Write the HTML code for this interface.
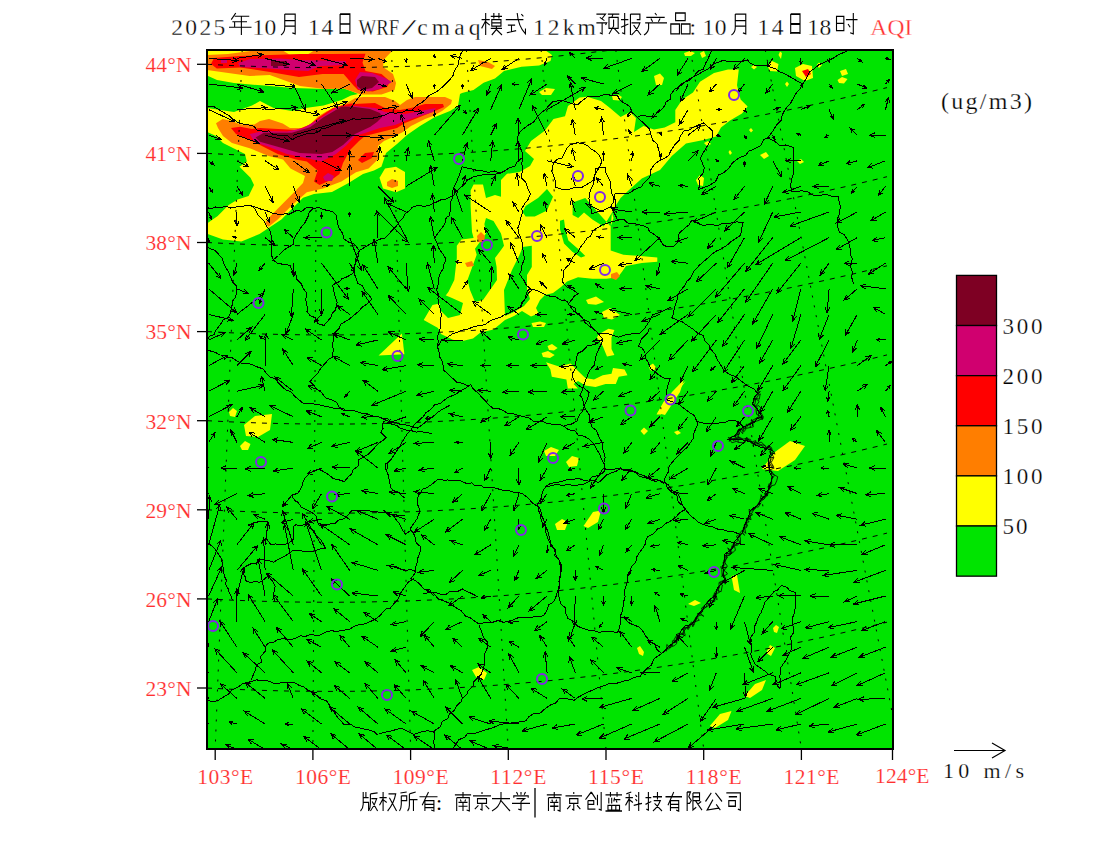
<!DOCTYPE html><html><head><meta charset="utf-8"><style>html,body{margin:0;padding:0;background:#fff;width:1100px;height:850px;overflow:hidden}svg{display:block}text{font-family:"Liberation Serif",serif}</style></head><body>
<svg width="1100" height="850" viewBox="0 0 1100 850">
<rect width="1100" height="850" fill="#fff"/>
<defs><clipPath id="mc"><rect x="207" y="50" width="686" height="699"/></clipPath></defs>
<g clip-path="url(#mc)">
<rect x="207" y="50" width="686" height="699" fill="#00e400"/>
<polygon points="207,50 545,50 552,55 550.5,61 539,65.4 521.5,66.8 504,71 495,78.5 483.6,82.8 473.5,90 462,93 460,94 458,106 450,111 435,117 420,126 407,135 397,144 386,153 381.4,166.8 374,170.5 363,174 348.6,183 332,192 314,194 303,197.7 292.3,208.6 281.4,219.5 270.5,226.8 259.5,234 241.4,241.4 223,239.5 207.7,234" fill="#ffff00"/>
<polygon points="207,75.6 217,80 234,83 264,85.6 293,88 325,89 343.6,88.6 351,91 358,94 351,95.5 341.8,100 323.6,105.5 305.5,108 292,111 273.6,108 260,101 252,105.6 234,112 207,108" fill="#00e400"/>
<polygon points="207.7,132.3 216,136 223,143 234,148.6 245,154 246.8,161.4 239.5,166.8 250.5,177.7 254,185 248.6,196 237.7,199.5 228.6,205 217.7,216 207.7,223" fill="#00e400"/>
<polygon points="207,55 228,54 258,50 282,50 290,55 305,56 315,50 393,50 384,59.5 383,67 393,74 396,83 394.5,90 381.5,94.5 361,94.5 351,91 343.6,88.6 325,89 300,86 269.7,75 249.7,76 207,70" fill="#ff7e00"/>
<polygon points="214,58 240,56 270,55 300,54 330,54 365.5,53.7 362.5,62.5 365.5,71 381.5,74 390,81.4 387,87 372.7,91.5 358,90 353.8,85.7 343.6,74 322.6,74 299,77 270,72 240.3,67.4 216.8,68.6 211,64" fill="#ff0000"/>
<polygon points="238,63 250,59 280,58.5 300,60 346,61 346,65 320,66 308,71 290,70 260,68 240,67" fill="#d0006f"/>
<polygon points="221,59 227,59 227,63 221,63" fill="#d0006f"/>
<polygon points="355,80 360,72 372,73 385,78 392,82 380,89 368,91.5 358,89" fill="#d0006f"/>
<polygon points="271,61 287,61 287,66 271,66" fill="#7e0023"/>
<polygon points="357,80 362,76 375,77 379,82 372,88 362,90 357,86" fill="#7e0023"/>
<polygon points="216,123.3 222.6,119 232,121 240.3,124.5 254.4,124.5 260,121 269,119 282.7,123.6 290,128 303.6,128 311,123.6 318,116.4 327,111 335.5,108 346,103.6 355.5,98 363,97 385,97 395,101 400,105 407,100 415,97 445,97 452,100 451,104 442,111 433,116 425,119 411,126 403,132 393,137 384,141 378,146 379.5,157.7 368.6,168.6 356,172.3 341.4,181.4 323,188.6 306.8,192.3 292.3,205 277.7,219.5 268.6,226.8 265,223 270.5,216 281.4,205 292.3,194 303,183 305,176 290.5,168.6 283,159.5 268.6,156 250.5,148.6 232,143 223,136 218,128" fill="#ff7e00"/>
<polygon points="231,128 240.3,126.8 252,129 260,128 296.4,130 310,124.5 319,117.3 332.7,108 341.8,105.5 351,103.6 355,104 375,103 385,108 400,110 411,108 425,104 443,104 444,107 435,111 420,117 405,123 397,128 385,131 365,136 359,141 350,150 343,163 339.5,174 332,179.5 319.5,185 314,181.4 317.7,170.5 306.8,161.4 296,159.5 277.7,154 256,143 236,134" fill="#ff0000"/>
<polygon points="358,160 365,153 374,152 372,158 362,163" fill="#ff0000"/>
<polygon points="249.7,134 263.8,131 287,131.4 303.6,128 319,119 337,107.3 355,106 375,108 385,112 405,114 420,111 436,108 433,112 420,116 405,121 395,125 380,128 365,133 355,136 346.8,145 336,154 321.4,161.4 305,157.7 286.8,154 268.6,146.8 254.4,142" fill="#d0006f"/>
<polygon points="323,177 328,173 334,176 332,181 325,181" fill="#d0006f"/>
<polygon points="255.6,137.4 263.8,132.7 291.8,132.7 310,127.3 323.6,117.3 341.8,106.4 355,107 370,109 380,113 382,117 377,122 370,127 355,134 343,145 332.3,152 321.4,154 299.5,153 277.7,146.8 260,141.8" fill="#7e0023"/>
<polygon points="379.5,177.7 385,168.6 396,166.8 405,172 405,188.6 396,192.3 383,188.6" fill="#ffff00"/>
<polygon points="387,182 392,179 398,181 398,186 392,188 387,186" fill="#ff7e00"/>
<polygon points="478,60 488,62 495,66 492,69 480,66" fill="#ff7e00"/>
<polygon points="530,166 534,159 525,151 531,141 544.7,130.8 553.5,119 565,116.3 568,106 579.6,97.4 587,96.8 601,101 610,108 620.6,117 630,112 636,118 634,132 643.5,126 654,129.4 664.7,127.6 675.3,122.3 675.3,110 682.3,99.4 693,92.4 700,81.8 714,73 728,69.4 738.8,69.4 737,85.3 740.6,99.4 747.6,106.5 742,113.5 730,120.6 721,127.6 716,136.5 703.5,140 686,143.5 671.8,156 660,170 641.8,178.5 629,190 620.6,198 615,206.7 612,212.4 613.5,218 610.7,226.5 610.7,250.5 623.4,254.7 640.4,256 657.3,257.5 657.3,261.8 641.8,263 626,266 622,271.7 617.8,277.3 606.5,278.7 592.4,278.7 578,277.3 567,281.5 561,287 553,293 545,295 540,300 536,308 538.6,313.6 531,316.5 522,311 514,316 505,320 499,325 493.5,329.6 480.5,332.5 473,338.4 461.5,341.3 452.8,339.8 441,334 438,328 423.7,320 432.5,305 439.7,303.5 448.5,291.8 454.3,280 456.8,258 456.8,245.7 461.4,239.5 473.6,238 472,232 470.6,206 470.6,190.6 473.6,184.5 483,184.5 486,198 495,195 501,196.7 501,180 507,173.8 519.5,172" fill="#ffff00"/>
<polygon points="612,212.4 603.6,226.5 592.4,219.4 584,212.4 578.2,218 572.6,215 572.6,202.5 585.3,198 596.6,211 610.7,226.5" fill="#00e400"/>
<polygon points="560,220.8 564,219.4 565.5,230.7 568.4,240.6 578.2,249 585.3,256 581,257.5 572.6,252 564,243.4 560,229.3" fill="#00e400"/>
<polygon points="522.6,212 525.6,206 538,198 547,189 553,196.7 547,210.5 534.8,216.6 525.6,216.6" fill="#00e400"/>
<polygon points="486,218 493.5,221 501,233.4 504,245.7 501,250 495,258 496.6,267 497,280 490,290 483,300 475,302 470,290 467.5,280 476.7,254.8 475,248.7 486,233.4 484.4,224" fill="#00e400"/>
<polygon points="522.6,247 531.8,245.7 531.8,267 527,275 527,289 530,299 524,306 514,312 505,316 504,290 512,270 519.5,255" fill="#00e400"/>
<polygon points="440,293 452,298 463,303 460,315 448,318 440,310" fill="#00e400"/>
<polygon points="477,236 481,232 485,236 484,242 478,242" fill="#ff7e00"/>
<polygon points="465,263 472,261 474,266 467,267" fill="#ff7e00"/>
<polygon points="611,274 617,272 620,276 616,280 611,278" fill="#ff7e00"/>
<polygon points="795,68 803,64 812,66 813,78 805,81 796,76" fill="#ffff00"/>
<polygon points="802,71 808,69 811,74 806,77" fill="#ff0000"/>
<polygon points="378.6,355.5 401.9,333.5 404.4,354.2" fill="#ffff00"/>
<polygon points="244,425 255,416 272,414 270,430 258,437 246,436" fill="#ffff00"/>
<polygon points="762,469 775,452 790,441 805,446 795,460 778,471" fill="#ffff00"/>
<polygon points="709.8,726 720,714 731.5,711 728,720 715,728" fill="#ffff00"/>
<polygon points="744.6,696 755,684 766,680 762,690 750,698" fill="#ffff00"/>
<polygon points="731.5,576 737,575 740,593 734,590" fill="#ffff00"/>
<polygon points="583.5,526 593,512 601,510.6 598,522 588,528" fill="#ffff00"/>
<polygon points="657.5,413 672,392 683.7,380 680,392 665,415" fill="#ffff00"/>
<polygon points="688,604 695,600 701,603 694,606" fill="#ffff00"/>
<polygon points="766,653 770,645 775,648 771,656" fill="#ffff00"/>
<polygon points="586,300 596,296.6 604,302 596,304.7 588,304" fill="#ffff00"/>
<polygon points="602,312 610,308 620,315 612,319.5 604,318" fill="#ffff00"/>
<polygon points="531.5,323 540,321.5 546,323 544,327 533,327" fill="#ffff00"/>
<polygon points="547.5,346 552,344 557.6,348 554,350.5 549,350" fill="#ffff00"/>
<polygon points="541.6,353 548,351 554.7,355 550,358 543,357" fill="#ffff00"/>
<polygon points="546,362.2 559,366.5 570.7,363.6 576.5,369.5 585.3,378 594,379.6 602.7,375.3 611.5,373.8 613,368 624.5,369.5 627.5,375.3 618.7,376.7 615.8,384 605.6,384 595.5,387 585.3,385.5 578,381 573.6,384 578,388.4 567.8,388.4 566.4,379.6 551.8,376.7 550.4,369.5" fill="#ffff00"/>
<polygon points="608.5,328.7 614.4,330 611.5,337.5 611.5,349 614.4,355 607,356.4 602.7,346 597,337.5 598.4,334.5" fill="#ffff00"/>
<polygon points="649,366 653,363.6 656.5,368 653,371 650,370" fill="#ffff00"/>
<polygon points="685.6,381 675.5,390 663.8,401.5 656.5,414.5 661,414.5 669.6,401.5 681.3,387" fill="#ffff00"/>
<polygon points="640.5,431 644,427.6 648,431 644,435" fill="#ffff00"/>
<polygon points="674,432 678,430.5 681,433 677,435" fill="#ffff00"/>
<polygon points="654,76 660,73.5 664,78 662,85 656,85" fill="#ffff00"/>
<polygon points="612,96 618,94.5 622,97 619,100.5 613,100" fill="#ffff00"/>
<polygon points="684,53 690,51 695,53 691,56 685,56" fill="#ffff00"/>
<polygon points="539,92 546,88 555,89 551,95 542,95" fill="#ffff00"/>
<polygon points="700,53 704,51 706,56 702,58" fill="#ffff00"/>
<polygon points="840,71 846,69 848,74 842,76" fill="#ffff00"/>
<polygon points="760,155 766,152 769,156 764,159" fill="#ffff00"/>
<polygon points="544,451 551,447 559,450 555,456 546,456" fill="#ffff00"/>
<polygon points="566,462 572,456 579,458 577,466 569,467" fill="#ffff00"/>
<polygon points="555,524 562,519 568,522 565,530 557,530" fill="#ffff00"/>
<polygon points="472,670 479,667 487,673 484,680 476,677" fill="#ffff00"/>
<polygon points="229,412 233,408 237,411 235,417 230,416" fill="#ffff00"/>
<polygon points="240,446 245,441 250.5,444 248,450 242,450" fill="#ffff00"/>
<polygon points="637,648 640,646 644,652 643,656 639,654" fill="#ffff00"/>
<polygon points="773,628 776,625 779,627 777,633 774,632" fill="#ffff00"/>
<polygon points="751,67 754,65 757,67 754,69.5" fill="#ffff00"/>
<polygon points="767.5,66 772,61 778.5,64 777,71.6 770,71" fill="#ffff00"/>
<polygon points="778.5,55 780,51.6 782,53 781,59" fill="#ffff00"/>
<polygon points="816.6,65 819,62.5 822,65 819,68" fill="#ffff00"/>
<polygon points="837.5,80 842,77 847.5,79 844,83.5 839,83" fill="#ffff00"/>
<polygon points="785,84 787,81.6 789,84 787,87" fill="#ffff00"/>
<polygon points="749,130 751,128 753,130.5 751,132.5" fill="#ffff00"/>
<polygon points="704,143 708,141 711,144 707,146" fill="#ffff00"/>
<polygon points="728.5,152 730,150 732,153 730,155" fill="#ffff00"/>
<polygon points="696,180 700,175 704,178 703,186 698,185" fill="#ffff00"/>
<polygon points="797,161 801,159 804,162 800,164" fill="#ffff00"/>
<polyline points="207,64.3 215,64.7 223,65.1 231,65.5 239,65.8 247,66.1 255,66.4 263,66.7 271,66.9 279,67.1 287,67.3 295,67.4 303,67.5 311,67.6 319,67.6 327,67.7 335,67.7 343,67.6 351,67.6 359,67.5 367,67.4 375,67.2 383,67.0 391,66.8 399,66.6 407,66.4 415,66.1 423,65.7 431,65.4 439,65.0 447,64.6 455,64.2 463,63.7 471,63.2 479,62.7 487,62.2 495,61.6 503,61.0 511,60.4 519,59.7 527,59.0 535,58.3 543,57.6 551,56.8 559,56.0 567,55.1 575,54.3 583,53.4 591,52.5 599,51.5 607,50.6 615,49.6 623,48.5 631,47.5 639,46.4 647,45.3 655,44.1 663,42.9 671,41.7 679,40.5 687,39.3 695,38.0 703,36.6 711,35.3 719,33.9 727,32.5 735,31.1 743,29.6 751,28.1 759,26.6 767,25.1 775,23.5 783,21.9 791,20.3 799,18.6 807,16.9 815,15.2 823,13.5 831,11.7 839,9.9 847,8.1 855,6.2 863,4.3 871,2.4 879,0.5 887,-1.5" fill="none" stroke="#000" stroke-width="1" stroke-dasharray="5 6"/><polyline points="207,153.4 215,153.8 223,154.2 231,154.6 239,154.9 247,155.2 255,155.5 263,155.8 271,156.0 279,156.2 287,156.4 295,156.5 303,156.6 311,156.7 319,156.7 327,156.8 335,156.8 343,156.7 351,156.7 359,156.6 367,156.5 375,156.3 383,156.1 391,155.9 399,155.7 407,155.5 415,155.2 423,154.8 431,154.5 439,154.1 447,153.7 455,153.3 463,152.8 471,152.3 479,151.8 487,151.3 495,150.7 503,150.1 511,149.5 519,148.8 527,148.1 535,147.4 543,146.7 551,145.9 559,145.1 567,144.2 575,143.4 583,142.5 591,141.6 599,140.6 607,139.7 615,138.7 623,137.6 631,136.6 639,135.5 647,134.4 655,133.2 663,132.0 671,130.8 679,129.6 687,128.4 695,127.1 703,125.7 711,124.4 719,123.0 727,121.6 735,120.2 743,118.7 751,117.2 759,115.7 767,114.2 775,112.6 783,111.0 791,109.4 799,107.7 807,106.0 815,104.3 823,102.6 831,100.8 839,99.0 847,97.2 855,95.3 863,93.4 871,91.5 879,89.6 887,87.6" fill="none" stroke="#000" stroke-width="1" stroke-dasharray="5 6"/><polyline points="207,242.5 215,242.9 223,243.3 231,243.7 239,244.0 247,244.3 255,244.6 263,244.9 271,245.1 279,245.3 287,245.5 295,245.6 303,245.7 311,245.8 319,245.8 327,245.9 335,245.9 343,245.8 351,245.8 359,245.7 367,245.6 375,245.4 383,245.2 391,245.0 399,244.8 407,244.6 415,244.3 423,243.9 431,243.6 439,243.2 447,242.8 455,242.4 463,241.9 471,241.4 479,240.9 487,240.4 495,239.8 503,239.2 511,238.6 519,237.9 527,237.2 535,236.5 543,235.8 551,235.0 559,234.2 567,233.3 575,232.5 583,231.6 591,230.7 599,229.7 607,228.8 615,227.8 623,226.7 631,225.7 639,224.6 647,223.5 655,222.3 663,221.1 671,219.9 679,218.7 687,217.5 695,216.2 703,214.8 711,213.5 719,212.1 727,210.7 735,209.3 743,207.8 751,206.3 759,204.8 767,203.3 775,201.7 783,200.1 791,198.5 799,196.8 807,195.1 815,193.4 823,191.7 831,189.9 839,188.1 847,186.3 855,184.4 863,182.5 871,180.6 879,178.7 887,176.7" fill="none" stroke="#000" stroke-width="1" stroke-dasharray="5 6"/><polyline points="207,331.6 215,332.0 223,332.4 231,332.8 239,333.1 247,333.4 255,333.7 263,334.0 271,334.2 279,334.4 287,334.6 295,334.7 303,334.8 311,334.9 319,334.9 327,335.0 335,335.0 343,334.9 351,334.9 359,334.8 367,334.7 375,334.5 383,334.3 391,334.1 399,333.9 407,333.7 415,333.4 423,333.0 431,332.7 439,332.3 447,331.9 455,331.5 463,331.0 471,330.5 479,330.0 487,329.5 495,328.9 503,328.3 511,327.7 519,327.0 527,326.3 535,325.6 543,324.9 551,324.1 559,323.3 567,322.4 575,321.6 583,320.7 591,319.8 599,318.8 607,317.9 615,316.9 623,315.8 631,314.8 639,313.7 647,312.6 655,311.4 663,310.2 671,309.0 679,307.8 687,306.6 695,305.3 703,303.9 711,302.6 719,301.2 727,299.8 735,298.4 743,296.9 751,295.4 759,293.9 767,292.4 775,290.8 783,289.2 791,287.6 799,285.9 807,284.2 815,282.5 823,280.8 831,279.0 839,277.2 847,275.4 855,273.5 863,271.6 871,269.7 879,267.8 887,265.8" fill="none" stroke="#000" stroke-width="1" stroke-dasharray="5 6"/><polyline points="207,420.7 215,421.1 223,421.5 231,421.9 239,422.2 247,422.5 255,422.8 263,423.1 271,423.3 279,423.5 287,423.7 295,423.8 303,423.9 311,424.0 319,424.0 327,424.1 335,424.1 343,424.0 351,424.0 359,423.9 367,423.8 375,423.6 383,423.4 391,423.2 399,423.0 407,422.8 415,422.5 423,422.1 431,421.8 439,421.4 447,421.0 455,420.6 463,420.1 471,419.6 479,419.1 487,418.6 495,418.0 503,417.4 511,416.8 519,416.1 527,415.4 535,414.7 543,414.0 551,413.2 559,412.4 567,411.5 575,410.7 583,409.8 591,408.9 599,407.9 607,407.0 615,406.0 623,404.9 631,403.9 639,402.8 647,401.7 655,400.5 663,399.3 671,398.1 679,396.9 687,395.7 695,394.4 703,393.0 711,391.7 719,390.3 727,388.9 735,387.5 743,386.0 751,384.5 759,383.0 767,381.5 775,379.9 783,378.3 791,376.7 799,375.0 807,373.3 815,371.6 823,369.9 831,368.1 839,366.3 847,364.5 855,362.6 863,360.7 871,358.8 879,356.9 887,354.9" fill="none" stroke="#000" stroke-width="1" stroke-dasharray="5 6"/><polyline points="207,509.8 215,510.2 223,510.6 231,511.0 239,511.3 247,511.6 255,511.9 263,512.2 271,512.4 279,512.6 287,512.8 295,512.9 303,513.0 311,513.1 319,513.1 327,513.2 335,513.2 343,513.1 351,513.1 359,513.0 367,512.9 375,512.7 383,512.5 391,512.3 399,512.1 407,511.9 415,511.6 423,511.2 431,510.9 439,510.5 447,510.1 455,509.7 463,509.2 471,508.7 479,508.2 487,507.7 495,507.1 503,506.5 511,505.9 519,505.2 527,504.5 535,503.8 543,503.1 551,502.3 559,501.5 567,500.6 575,499.8 583,498.9 591,498.0 599,497.0 607,496.1 615,495.1 623,494.0 631,493.0 639,491.9 647,490.8 655,489.6 663,488.4 671,487.2 679,486.0 687,484.8 695,483.5 703,482.1 711,480.8 719,479.4 727,478.0 735,476.6 743,475.1 751,473.6 759,472.1 767,470.6 775,469.0 783,467.4 791,465.8 799,464.1 807,462.4 815,460.7 823,459.0 831,457.2 839,455.4 847,453.6 855,451.7 863,449.8 871,447.9 879,446.0 887,444.0" fill="none" stroke="#000" stroke-width="1" stroke-dasharray="5 6"/><polyline points="207,598.9 215,599.3 223,599.7 231,600.1 239,600.4 247,600.7 255,601.0 263,601.3 271,601.5 279,601.7 287,601.9 295,602.0 303,602.1 311,602.2 319,602.2 327,602.3 335,602.3 343,602.2 351,602.2 359,602.1 367,602.0 375,601.8 383,601.6 391,601.4 399,601.2 407,601.0 415,600.7 423,600.3 431,600.0 439,599.6 447,599.2 455,598.8 463,598.3 471,597.8 479,597.3 487,596.8 495,596.2 503,595.6 511,595.0 519,594.3 527,593.6 535,592.9 543,592.2 551,591.4 559,590.6 567,589.7 575,588.9 583,588.0 591,587.1 599,586.1 607,585.2 615,584.2 623,583.1 631,582.1 639,581.0 647,579.9 655,578.7 663,577.5 671,576.3 679,575.1 687,573.9 695,572.6 703,571.2 711,569.9 719,568.5 727,567.1 735,565.7 743,564.2 751,562.7 759,561.2 767,559.7 775,558.1 783,556.5 791,554.9 799,553.2 807,551.5 815,549.8 823,548.1 831,546.3 839,544.5 847,542.7 855,540.8 863,538.9 871,537.0 879,535.1 887,533.1" fill="none" stroke="#000" stroke-width="1" stroke-dasharray="5 6"/><polyline points="207,688.0 215,688.4 223,688.8 231,689.2 239,689.5 247,689.8 255,690.1 263,690.4 271,690.6 279,690.8 287,691.0 295,691.1 303,691.2 311,691.3 319,691.3 327,691.4 335,691.4 343,691.3 351,691.3 359,691.2 367,691.1 375,690.9 383,690.7 391,690.5 399,690.3 407,690.1 415,689.8 423,689.4 431,689.1 439,688.7 447,688.3 455,687.9 463,687.4 471,686.9 479,686.4 487,685.9 495,685.3 503,684.7 511,684.1 519,683.4 527,682.7 535,682.0 543,681.3 551,680.5 559,679.7 567,678.8 575,678.0 583,677.1 591,676.2 599,675.2 607,674.3 615,673.3 623,672.2 631,671.2 639,670.1 647,669.0 655,667.8 663,666.6 671,665.4 679,664.2 687,663.0 695,661.7 703,660.3 711,659.0 719,657.6 727,656.2 735,654.8 743,653.3 751,651.8 759,650.3 767,648.8 775,647.2 783,645.6 791,644.0 799,642.3 807,640.6 815,638.9 823,637.2 831,635.4 839,633.6 847,631.8 855,629.9 863,628.0 871,626.1 879,624.2 887,622.2" fill="none" stroke="#000" stroke-width="1" stroke-dasharray="5 6"/><line x1="242.2" y1="50" x2="215.2" y2="749" stroke="#000" stroke-width="1" stroke-dasharray="2 8"/><line x1="316.9" y1="50" x2="312.9" y2="749" stroke="#000" stroke-width="1" stroke-dasharray="2 8"/><line x1="391.6" y1="50" x2="410.6" y2="749" stroke="#000" stroke-width="1" stroke-dasharray="2 8"/><line x1="466.4" y1="50" x2="508.3" y2="749" stroke="#000" stroke-width="1" stroke-dasharray="2 8"/><line x1="541.1" y1="50" x2="606.0" y2="749" stroke="#000" stroke-width="1" stroke-dasharray="2 8"/><line x1="615.8" y1="50" x2="703.7" y2="749" stroke="#000" stroke-width="1" stroke-dasharray="2 8"/><line x1="690.5" y1="50" x2="801.4" y2="749" stroke="#000" stroke-width="1" stroke-dasharray="2 8"/><line x1="765.3" y1="50" x2="899.1" y2="749" stroke="#000" stroke-width="1" stroke-dasharray="2 8"/><path d="M769.6 137.3L763.9 139.6L760.4 145.8L754.8 148.8L749.0 151.0L745.5 155.4L741.5 156.8L737.4 159.0L731.8 163.5L728.8 168.5L723.5 172.7L718.7 174.9L715.6 181.5L709.2 185.5L702.9 187.8L698.8 189.6L699.4 183.8L698.8 178.1L703.0 173.3L704.2 167.8L700.5 158.3L702.7 153.8L706.1 147.9L710.7 140.2L712.8 136.3L712.2 130.8L709.4 127.9L703.5 123.0L693.2 127.2L690.2 129.8L684.0 130.9L679.8 137.0L679.1 140.3L675.5 143.8L670.7 151.1L668.6 155.7L664.7 158.3L658.4 161.3L654.5 164.4L650.6 170.2L649.9 177.0L643.8 183.0L641.5 186.7L635.2 189.3L630.5 192.4L628.0 193.7L620.3 193.2L614.6 194.1L613.2 202.5L610.8 206.0L614.0 212.5L617.3 219.2L624.5 220.0L628.9 224.0L634.3 223.5L642.6 225.6L647.7 227.5L649.4 231.5L653.5 233.9L659.5 238.7L662.8 244.6L666.9 246.7L673.1 246.7L678.3 241.7L679.1 233.3L685.1 227.9L688.9 225.1L691.9 219.9L698.1 223.5L703.8 225.6L710.8 224.0L716.5 225.9L723.7 223.1L727.9 223.6L736.5 221.9L743.1 222.5L741.4 229.6L740.7 235.3L731.5 241.3L726.7 245.5L720.2 249.5L715.5 251.4L711.4 254.7L706.2 259.4L703.3 261.8L699.0 265.6L694.0 271.3L690.6 277.8L686.4 281.9L684.7 285.8L680.2 290.8L677.3 296.3L677.0 300.4L674.3 307.5L673.6 314.2L671.7 317.7L679.0 320.8L682.6 322.0L686.5 324.9L693.0 329.1L697.8 333.2L703.2 335.7L704.8 340.6L709.5 345.6L710.0 348.1L715.0 354.2L717.2 359.4L720.6 364.7L723.7 370.4L729.3 374.3L735.9 376.7L740.6 380.6L743.3 382.7L747.7 385.8L753.8 389.0L757.8 393.2L754.3 397.3L752.6 404.2L757.7 410.0L762.1 416.8L757.0 418.8L754.6 422.0L749.6 424.4L742.7 427.4L738.6 430.9L735.4 435.0L728.3 439.5L733.5 439.2L740.5 439.3L746.4 440.8L751.6 441.8L755.7 445.3L761.2 447.3L767.9 448.9L771.3 450.0L769.8 456.3L767.9 460.9L769.1 465.9L769.8 472.8L772.3 476.8L770.5 483.6L769.2 487.4L766.2 494.8L761.9 498.4L758.2 505.1L754.3 507.4L749.5 511.6L748.9 516.0L746.4 521.6L743.8 527.2L742.5 532.1L737.0 538.9L734.6 541.8L732.2 549.0L728.8 551.2L724.5 554.4L724.4 560.1L722.6 567.1L723.8 573.2L724.1 580.5L721.3 583.5L717.2 588.4L715.3 595.3L710.5 599.1L705.7 604.2L702.6 609.4L699.3 613.0L696.0 618.5L691.5 624.4L684.6 626.2L680.5 631.4L678.8 637.6L674.6 642.1L668.9 646.2L664.8 650.9L658.9 655.4L654.0 658.8L651.3 665.3L646.7 668.6L642.0 673.5L640.0 676.5L634.4 677.3L628.8 680.2L622.8 681.3L615.4 683.7L609.4 683.6L604.4 685.5L597.7 687.8L592.2 690.2L586.4 692.9L578.3 697.1L574.3 700.2L568.2 699.0L559.7 698.3L555.5 703.2L550.8 704.7L544.2 709.4L540.6 712.9L533.5 713.8L529.3 716.3L525.8 720.8L519.1 722.0L511.3 723.0L504.6 723.6L498.6 725.2L492.6 727.9L488.1 729.1L482.0 731.0L474.1 733.7L468.0 733.0L464.7 737.3L458.7 739.7L456.1 744.1L452.9 748.4L452.0 755.1L449.6 759.8L453.1 768.5L446.5 763.4L439.8 762.9L437.0 755.8L435.1 753.0L434.8 748.6L433.6 741.4L434.8 736.7L434.7 732.9L432.7 731.3L426.8 730.8L421.2 731.8L414.0 734.5L407.7 731.4L402.6 728.9L397.8 729.0L392.5 730.6L384.7 732.3L378.5 734.1M767.5 137.8L773.2 130.8L776.2 125.3L781.3 120.3L782.1 115.3L784.2 111.0L786.7 107.5L790.1 104.2L793.9 97.0L796.0 93.4L799.9 89.2L802.5 84.8L806.9 77.4L809.3 72.1L813.5 69.2L818.9 64.7L825.8 61.6L832.8 58.4L839.7 54.1L843.9 52.5L849.8 49.4L856.8 47.8M767.5 137.8L774.4 141.0L779.9 145.7L785.5 145.0L793.2 147.3L793.9 150.4L793.0 157.1L793.9 163.1L793.4 169.0L793.7 172.5L792.0 178.0L790.6 184.9L791.4 191.7L795.8 191.6L801.9 190.8L808.1 192.0L812.5 195.0L819.5 195.3L826.5 194.4L831.6 196.1L838.3 196.5L838.9 200.8L840.3 206.0L839.7 212.9L837.3 219.5L837.2 224.8L839.2 231.8L844.6 235.0L848.3 241.5L850.1 248.8L850.1 254.5L852.3 258.6L850.6 266.3L852.2 272.1L851.8 277.9L853.7 283.8M782.1 585.7L787.2 587.6L789.9 590.8L795.9 592.4L795.9 596.2L795.4 603.1L795.1 607.6L794.9 611.6L792.1 619.0L793.0 625.8L793.4 632.9L790.7 636.9L791.3 643.0L791.3 649.3L788.2 655.3L785.5 660.7L780.5 668.0L780.8 671.7L779.7 676.9L781.0 682.5L780.0 688.4L775.2 683.4L775.1 676.3L768.5 674.3L765.3 671.4L761.2 668.6L755.5 664.6L752.0 658.1L750.8 654.4L751.9 648.5L751.0 642.7L750.8 637.3L754.5 632.1L754.7 626.1L756.7 622.1L758.2 617.0L761.1 612.7L763.9 605.4L764.5 602.5L770.3 596.2L774.4 591.1L777.3 590.2L782.0 585.0M96.4 86.5L98.6 86.7L104.3 86.5L109.6 86.1L114.6 87.1L119.7 89.6L124.9 90.4L131.3 89.4L136.4 90.4L141.2 91.2L146.2 94.8L149.2 94.8L154.4 96.0L159.5 95.9L164.3 95.9L168.7 97.2L174.4 99.5L179.4 98.4L184.2 100.6L189.5 102.4L195.8 102.6L199.6 103.3L204.1 104.2L209.7 107.0L214.0 106.7L219.9 110.3L223.8 112.6L229.2 115.6L234.5 120.0L237.4 122.3L244.1 124.5L247.5 124.7L253.8 126.2L257.3 130.2L264.8 131.6L268.6 130.9L273.0 134.3L278.6 135.4L282.8 135.4L287.7 136.0L292.3 139.7L297.7 136.6L304.4 134.7L306.7 133.7L314.3 133.2L319.5 131.3L321.7 128.1L326.4 128.0L332.9 125.1L336.1 124.1L343.7 122.0L346.8 121.1L353.4 118.7L358.2 119.6L363.5 118.5L369.3 118.6L374.2 117.9L380.0 116.5L384.7 115.0L389.8 112.8L396.2 113.1L402.1 112.5L406.4 110.3L411.9 110.4L415.8 106.1L421.8 102.5L425.7 99.2L427.7 96.4L432.4 93.8L438.2 90.6L442.5 87.0L446.8 82.8L449.9 79.5L453.6 74.6L454.3 70.8L458.0 65.3L459.3 59.1L460.7 53.9L463.4 50.6L467.3 46.0L467.8 38.9L475.2 38.8L478.9 34.5L482.5 32.6L486.5 31.2L493.0 27.9L497.8 26.0L501.9 22.5M377.4 735.1L374.5 731.9L369.0 730.0L363.4 728.8L359.2 727.9L353.8 726.8L351.0 724.1L344.0 724.7L341.4 721.5L337.2 716.8L334.3 712.6L331.9 709.3L330.3 706.2L326.5 700.8L321.0 699.0L317.3 696.6L313.5 692.4L307.7 690.2L304.4 687.3L298.8 685.1L294.4 682.5L288.0 682.0L281.9 682.8L278.5 683.1L273.9 683.3L266.8 680.5L260.7 680.5L256.2 679.8L251.6 681.4L246.0 683.1L242.0 684.1L238.1 687.1L231.5 690.0L229.0 693.7L224.4 696.4L218.3 700.3L213.7 701.7L208.8 700.8L202.5 702.7L198.0 704.0L192.5 704.4M619.3 219.9L611.9 221.8L607.8 223.2L603.3 224.4L598.6 227.1L593.0 230.6L590.4 236.0L587.2 238.0L583.8 243.2L580.6 246.8L578.5 251.5L574.5 254.9L571.9 259.1L569.2 264.7L565.9 267.4L563.2 271.3L563.5 276.4L562.2 281.8L567.3 287.3L573.6 290.3L578.1 293.8L574.6 295.8L572.3 299.0L568.5 303.9L570.0 306.2L573.9 311.5L579.7 314.1L582.1 318.5L589.0 321.8L591.6 327.3L598.3 333.3L602.8 333.7L607.9 333.5L614.2 335.7L618.6 337.2L623.5 335.3L630.6 334.1L635.7 333.3L639.4 333.5L644.0 329.2L647.2 324.6L650.4 319.4L652.3 315.0L659.7 312.3L664.2 310.6L670.8 307.0M438.1 346.0L441.6 340.0L446.1 338.3L452.5 333.7L457.8 332.3L461.7 330.3L467.2 329.3L474.0 326.6L478.6 325.7L484.6 324.8L490.0 320.9L492.8 319.7L500.8 317.1L503.6 315.3L510.4 312.2L513.4 310.8L521.1 306.7L521.9 302.5L525.3 298.8L526.3 293.3L528.6 289.6L533.4 289.4L539.1 291.3L545.3 294.9L549.8 296.1L554.9 296.1L559.8 299.7L567.3 301.2L569.3 305.4L575.3 308.2L576.3 313.5L581.7 316.3L584.6 322.2L589.7 326.5L594.7 329.6L599.7 335.3L602.5 338.9L599.0 342.2L594.0 344.8L587.6 345.6L582.9 350.8L577.3 353.7L576.7 358.8L575.1 363.2L576.3 367.4L573.1 372.0L572.3 377.0L575.4 382.4L579.7 386.3L583.7 388.0L589.1 392.4L587.6 399.1L584.9 404.1L582.5 411.7L579.5 414.4L577.0 420.9L571.9 423.9L564.1 425.8M468.3 386.4L463.3 383.5L456.9 382.2L451.1 377.0L446.7 372.6L443.6 370.2L442.6 361.9L439.9 357.3L439.1 352.0L437.1 345.5M437.2 346.3L438.4 340.9L437.2 336.9L439.9 329.9L440.6 324.2L440.1 319.5L441.4 316.4L440.6 309.8L439.3 306.4L437.9 298.7L439.0 295.9L436.6 289.9L438.7 282.7L438.3 278.8L440.0 273.7L443.1 268.8L444.0 264.3L445.9 259.3L443.8 255.3L438.7 248.1L436.9 243.0L434.4 238.2L437.8 233.6L441.5 228.6L444.6 224.4L446.2 217.8L449.4 215.6L450.8 207.9L450.8 201.8L452.8 196.6L454.8 193.4L459.4 188.6L464.3 184.4L467.4 180.1L474.1 176.6L477.4 176.0L484.1 174.5L487.7 174.6L493.1 174.3L499.4 173.7L505.8 170.3L508.6 168.3L514.9 166.1L517.1 162.1L522.9 157.0L521.8 163.7L522.8 168.3L522.0 173.0L521.8 178.1L526.4 183.2L527.3 187.5L530.3 194.0L528.2 199.5L526.0 201.8L521.6 208.7L522.5 212.0L521.4 215.9L519.2 224.1L517.9 227.9L518.4 232.1L521.2 239.4L522.4 243.8L522.4 248.2L523.8 252.2L524.2 259.9L522.1 264.4L521.3 270.8L519.4 274.1L523.9 280.3L526.4 285.4L532.0 289.9L528.8 292.8L524.8 299.7L522.5 302.8L519.9 307.6M522.0 159.1L522.2 152.2L519.7 146.7L517.2 141.9L517.5 136.8L520.1 132.2L524.0 128.3L528.3 125.2L533.5 122.3L538.0 115.9L540.8 113.0L545.5 109.6L550.1 104.3L552.7 101.9L559.6 100.5L564.6 101.1L569.9 103.1L577.3 105.0L581.5 101.2L587.4 96.7L592.4 96.1L598.9 96.4L605.2 94.4L610.1 95.1L617.3 95.1L619.6 99.7L623.5 102.7L629.9 106.5L631.9 112.5L635.6 115.5L639.6 119.4L644.4 124.0L649.6 129.1L651.0 135.2L652.6 140.0L657.0 144.0L658.5 149.1L659.6 154.0L661.4 159.9M555.0 188.5L555.7 181.6L553.7 176.0L551.8 171.2L552.6 166.0L554.4 162.2L557.6 159.1L562.1 158.0L565.4 151.3L567.1 148.1L570.2 144.8L576.8 142.9L581.4 143.1L587.7 145.7L590.4 148.7L594.7 151.0L599.2 155.2L601.8 161.2L600.0 166.5L597.9 169.6L594.5 175.3L593.3 180.3L587.0 184.4L582.4 187.1L575.2 187.2L567.7 190.0L561.2 189.0L556.1 187.5M590.9 214.1L597.8 211.6L603.3 210.7L606.3 208.6L610.6 207.2L616.1 207.9L615.1 199.7L612.4 195.2L611.1 190.4L610.5 182.4L607.9 176.6L605.6 171.9L605.5 167.3L595.4 168.2L595.1 173.8L594.4 177.1L593.7 183.3L591.0 188.9L589.9 192.8L588.9 198.3L590.1 204.8L592.0 213.1M649.7 327.7L647.4 333.3L641.5 339.2L638.5 346.3L642.4 348.2L645.0 353.3L645.1 357.9L648.0 361.9L650.8 368.8L654.5 371.2L658.9 375.1L663.8 378.0L670.2 378.5L667.3 386.8L666.5 393.3L666.8 399.8L670.1 400.9L675.6 403.1L679.5 404.7L683.4 408.0L689.8 412.8L694.3 415.5L696.9 421.5L703.4 423.2L709.5 423.9L715.9 423.9L721.7 422.4L725.5 422.2L730.9 419.9L738.4 421.4L739.1 422.6L744.1 427.9M602.1 338.8L602.0 342.6L599.3 347.8L596.6 353.7L595.1 359.8L594.6 364.9L590.6 369.2L587.9 374.3L585.7 380.1L584.0 384.5L582.3 390.5L579.9 395.5L582.6 398.4L583.6 404.9L586.4 410.7L589.2 414.8L589.8 420.7L591.9 426.9L596.2 430.3L598.6 435.9L602.7 443.9L602.3 448.2L603.7 451.7L605.1 457.2L603.9 462.6L605.4 469.9L613.0 469.5L620.6 467.9L623.8 470.2L628.7 470.8L636.1 472.4L639.1 476.1L645.2 477.8L648.8 478.7L653.9 479.2L659.8 480.5L663.8 483.7L664.7 478.3L668.3 471.9L669.1 466.3L670.8 464.1L675.9 458.0L678.3 455.5L681.6 452.4L687.2 447.2L690.1 443.1L693.0 438.7L694.0 432.8L697.3 425.4L697.7 420.6M665.8 483.2L668.4 484.8L672.2 490.7L677.7 493.7L680.5 499.3L682.0 504.4L685.9 509.9L690.4 515.7L694.3 518.5L698.1 522.2L701.9 523.9L708.2 526.2L712.1 526.5L718.3 529.4L721.4 529.2L727.5 531.2L733.1 531.5L740.1 534.6M536.6 506.4L540.9 498.5L542.4 491.9L546.1 485.9L549.8 483.9L554.9 482.5L560.4 481.9L566.5 479.9L572.3 479.8L578.2 478.1L582.4 479.9L588.5 481.2L594.5 480.6L598.4 482.9L603.5 477.9L606.6 475.0L610.1 473.3L616.2 471.2L619.9 468.8L623.9 469.6L629.6 469.7L635.5 471.8L638.6 473.7L645.8 476.5L649.5 479.4L655.1 481.2L660.4 480.7L665.6 483.1L667.4 488.0L670.8 491.3L676.8 495.5L678.3 501.8L683.0 506.2L685.1 509.7L681.1 511.7L677.9 514.7L675.2 518.0L668.3 522.3L665.6 523.4L661.8 527.2L657.4 529.1L653.3 533.9L647.9 536.7L645.3 540.8L645.3 544.0L642.6 548.4L639.4 552.6L636.6 557.3L635.8 562.4L631.2 566.7L630.6 569.9L627.6 576.8L628.0 579.9L625.7 586.5L624.3 592.5L625.2 596.4L623.8 601.2L623.0 607.5L622.1 611.7L620.2 616.7L620.7 622.9L619.4 627.6L617.7 632.4L613.6 632.0L607.4 631.8L604.3 631.0L599.3 632.5L594.3 630.7L589.6 630.6L583.4 628.5L577.8 626.3L573.8 621.7L568.1 618.6L566.0 614.0L565.3 607.6L560.9 604.1L558.9 596.8L558.2 593.9L559.4 586.6L558.9 580.9L560.4 577.1L561.0 572.3L561.8 566.1L559.2 560.7L555.6 554.1L554.4 549.2L551.2 544.3L548.1 539.5L546.9 535.5L545.2 530.4L545.6 525.6L543.3 519.2L541.8 516.0L540.6 510.3L537.7 505.4M621.2 617.1L624.3 617.7L628.6 622.6L634.0 625.1L639.5 627.1L643.2 631.7L645.5 635.7L649.4 640.8L654.6 644.1L656.7 649.2L661.5 653.6M419.4 494.7L422.6 489.0L426.9 487.7L432.4 483.8L437.9 479.5L443.7 480.1L448.1 480.0L454.1 481.0L460.7 480.9L466.5 483.4L471.7 482.9L474.2 485.2L481.9 486.0L484.4 487.8L491.3 487.0L495.8 488.3L502.8 490.1L507.5 490.1L514.4 492.5L519.1 492.6L523.2 494.2L528.2 498.0L532.4 503.0L538.2 506.9L538.9 511.3L540.3 514.6L541.4 521.5L544.9 525.5L547.4 530.2L548.7 534.3L550.2 541.1L550.8 546.1L555.3 549.7L554.9 555.8L558.8 559.4L560.2 566.0L560.1 571.8L560.0 576.3L559.7 583.5L558.7 587.7L556.7 593.9L555.5 598.6L552.9 602.5L548.9 604.8L546.6 611.4L543.3 615.6L538.9 616.7L533.4 617.0L530.6 617.2L523.5 617.7L518.9 617.4L513.8 619.6L507.8 621.6L503.0 622.2L498.0 620.5L492.9 622.2L487.7 622.2L484.1 622.7L478.8 623.8L475.2 621.6L470.4 617.8L465.9 616.5L460.8 610.3L457.8 609.0L452.0 604.8L448.7 602.8L442.2 600.4L437.7 598.2L433.5 593.1L427.4 590.5L423.4 588.6L420.4 584.8L416.9 581.7L411.0 578.4L414.9 573.4L416.0 565.9L417.1 562.4L417.8 558.0L420.0 552.5L421.0 547.0L416.1 542.8L414.7 535.6L410.3 528.8L412.4 525.2L417.0 519.0L420.0 510.7L418.0 505.5L417.7 499.5L418.4 494.2M387.0 468.9L388.0 462.5L390.1 460.6L393.4 456.1L396.7 451.0L399.6 446.5L401.9 442.5L405.7 436.2L407.6 433.2L411.5 429.3L414.0 424.9L418.0 421.4L423.5 416.3L425.8 412.9L431.6 408.8L434.3 405.0L440.1 403.6L445.4 399.2L448.0 397.4L455.9 394.3L458.5 392.0L465.2 388.4L470.5 384.5L473.1 388.7L478.3 393.4L481.0 396.3L486.1 401.6L488.0 403.9L492.9 408.4L497.3 408.2L502.6 410.1L507.2 413.2L511.4 413.3L517.9 415.3L523.4 416.7L528.9 417.8L533.3 421.1L537.6 421.7L542.5 421.0L547.1 423.9L554.2 424.1L560.2 424.8L564.8 426.8L568.2 429.6L575.4 431.0L577.8 434.9L584.4 436.3L589.8 439.7L593.6 443.7L596.5 449.2L599.4 453.5L602.1 460.4L604.1 464.3L605.1 470.2L602.3 473.3L598.1 475.8L592.4 476.5L588.5 481.6L583.7 484.3L578.5 485.0L572.3 485.1L568.8 484.9L561.0 485.1L555.7 484.5L550.0 486.0L544.7 487.0M479.0 625.3L480.7 629.2L483.5 637.4L488.0 642.7L487.2 648.1L484.9 653.0L484.2 658.8L484.9 663.0L483.2 668.9L481.2 674.4L478.6 677.0L473.4 682.2L473.3 686.0L468.0 690.7L466.9 694.1L461.7 699.1L461.4 701.4L456.6 705.7L454.4 710.5L449.8 713.4L447.5 718.9L442.1 721.3L440.6 726.6L435.5 729.9L432.9 732.8M413.6 578.5L408.0 582.4L405.7 585.8L403.2 589.1L400.3 593.8L397.5 600.0L393.7 603.9L390.4 608.1L386.4 608.9L382.3 613.0L378.7 616.7L376.0 618.8L370.4 621.5L365.8 623.7L359.2 624.7L354.2 626.4L348.9 629.5L341.3 630.4L337.5 631.3L330.6 630.8L326.7 631.7L319.9 635.0L317.2 635.8L310.9 634.0L306.0 636.2L300.0 635.9L294.2 638.9L289.7 639.5L283.7 638.9L278.5 639.1L273.3 642.5L267.7 643.1L266.0 646.4L265.6 650.9L260.8 656.2L261.3 662.2L256.5 665.1L255.1 670.9L252.4 676.8L251.5 680.0M221.0 355.1L224.4 358.1L232.0 357.6L237.2 361.3L241.8 363.2L247.0 363.0L252.6 364.9L256.0 366.5L262.7 368.7L266.8 373.7L270.4 377.4L275.1 378.5L278.0 382.6L282.7 387.3L286.6 390.2L290.9 391.9L295.7 397.3L297.8 398.8L303.3 403.4L309.9 403.3L313.5 403.9L319.9 405.0L324.7 406.3L330.5 407.3L334.9 408.4L341.0 408.6L344.4 410.8L350.1 410.0L356.3 411.3L360.7 413.0L367.5 414.0L371.4 415.8L378.1 416.5L382.0 418.2M450.1 405.2L447.6 406.5L442.4 409.2L437.3 412.6L433.5 416.2L428.6 419.7L426.2 421.6L419.6 426.8L417.4 428.1L410.7 426.2L405.3 424.9L400.5 424.4L396.1 422.6L391.7 422.3L387.6 418.6L382.0 418.2M452.4 196.0L444.8 199.6L441.6 199.5L435.4 202.5L429.9 205.1L423.7 206.4L418.5 205.1L412.3 207.2L410.2 210.1L405.2 213.7L402.9 217.9L399.1 222.2L396.3 226.2L392.0 230.3L389.5 233.4L384.2 238.6L379.6 239.1L375.4 241.5L369.5 244.4L366.0 246.6L360.2 250.0L356.6 254.8L355.2 261.7L354.9 266.9L353.6 272.2L356.3 278.7L357.7 283.1L362.8 286.2L365.1 290.9L368.0 294.1L372.1 299.0L367.9 303.4L362.2 307.3L358.9 311.1L353.3 315.7L349.6 318.9L347.7 320.2L341.1 324.1L339.0 328.5L334.1 333.3L333.8 339.5L332.3 343.8L333.4 349.6L332.3 357.6L328.9 359.1L324.8 363.7L319.0 370.8L317.5 373.8L313.2 377.9L310.0 381.7L314.4 386.1L318.1 390.4L321.5 392.3L325.6 397.9L331.8 399.9L336.6 402.4L339.0 407.3L345.3 409.5M271.9 260.9L278.5 255.5L282.4 251.5L286.4 248.2L293.1 244.6L293.9 239.5L296.0 235.0L298.7 231.4L301.8 226.3L304.9 222.8L308.3 216.0L309.1 212.5L312.6 208.8L318.4 207.3L322.5 209.3L328.5 210.7L333.1 212.0L336.1 215.1L337.1 220.5L338.4 227.0L342.4 233.1L344.0 239.0L348.3 241.9L354.2 244.1L359.3 250.3L358.0 256.6L356.5 260.7L353.6 267.6L352.9 273.6L346.6 277.0L341.9 278.8L339.6 281.4L332.7 285.0L333.5 290.1L335.1 296.1L337.2 302.4L335.5 309.8L331.9 313.9L331.0 317.2L327.3 321.6L324.0 325.5L318.0 323.6L315.3 317.8L310.1 315.6L307.0 311.5L307.3 306.8L305.8 300.5L306.5 292.7L303.3 288.4L301.2 283.8L296.9 279.3L295.8 274.3L292.7 271.5L290.0 265.3L283.5 264.4L277.5 263.2L273.0 259.9M105.0 127.0L107.0 126.4L114.0 129.2L115.9 131.7L122.8 134.0L125.3 136.2L131.6 138.7L135.0 142.3L139.6 144.5L142.9 146.5L149.4 148.7L152.5 148.4L154.7 153.7L159.3 158.4L162.3 162.9L163.0 167.8L166.9 173.8L167.0 177.2L169.7 181.3L173.6 186.6L175.2 190.5L180.1 194.1L185.3 195.7L189.7 198.8L195.3 201.7L200.1 202.3L204.9 204.7L209.9 209.1L215.6 207.0L220.3 208.0L226.1 206.0L230.7 208.1L237.8 206.6L241.5 206.5L247.5 205.4L253.4 206.5L260.1 208.9L263.9 209.9L269.4 211.6L273.2 213.4L280.6 214.7L285.6 213.8L289.2 214.2L297.2 210.2L301.6 211.6L306.5 207.5L312.8 207.6M452.9 196.9L452.9 190.0L454.0 187.4L456.3 182.4L458.7 176.7L460.6 171.7L462.1 166.8L467.2 168.0L470.9 168.6L476.2 170.2L482.1 170.7L488.6 172.3L494.5 171.0L497.7 172.3L504.7 171.8M638.0 116.9L641.4 115.1L649.7 116.7L653.4 117.2L656.2 113.9L661.2 109.9L664.8 105.7L666.0 102.0L670.4 99.2L671.0 94.0L674.6 89.4L679.2 86.9L684.2 82.5L688.4 79.5L693.7 76.4L698.4 70.9L703.2 69.2L706.0 62.6L707.9 59.1L710.8 52.6L712.5 50.3L715.2 44.1L716.3 37.7L718.2 32.6L717.1 26.1L717.8 20.3L716.8 14.5L717.9 9.2M676.5 91.3L679.4 85.8L683.7 82.4L688.7 80.7L693.4 76.5L697.7 74.6L702.6 71.7L708.4 68.9L712.7 64.3L719.0 62.1L722.3 60.7L729.2 61.3L735.5 61.8L740.0 61.9L747.4 60.0L750.9 63.7L756.5 65.8L763.4 65.0L769.8 66.8L776.0 69.0L779.7 71.9L782.6 72.9L787.4 75.4L792.1 77.9L797.7 81.4L802.7 83.7M188.3 226.3L189.4 229.5L193.8 232.3L197.9 234.9L201.7 239.0L205.6 244.5L209.6 248.4L214.8 250.4L218.7 254.4L222.3 258.2L223.6 263.2L226.4 269.0L228.5 271.4L230.4 277.0L232.8 282.3L236.3 286.0L236.7 290.2L235.9 296.2L233.1 300.9L231.8 306.4L230.3 313.2L228.3 317.3L223.0 320.0L220.7 324.1L215.4 330.7L214.2 334.6L209.5 336.1L206.1 341.5L201.7 344.5L205.9 349.1L211.3 351.3L215.4 352.4L220.5 355.5M274.3 261.3L271.1 254.7L271.4 247.7L271.3 240.5L271.0 234.8L269.8 229.9L267.1 226.9L263.9 220.6L260.4 217.5L257.4 214.1L255.4 209.1L251.0 205.3M384.5 420.7L382.5 424.2L383.1 428.3L380.9 432.3L386.1 437.5L383.2 440.3L378.4 443.2L376.3 445.8L372.7 450.0L369.0 453.6L366.5 455.3L358.6 459.7L358.2 466.1L353.1 469.7L351.5 474.0L348.4 476.7L344.0 482.1L341.6 480.5L335.1 479.0L332.9 478.2L328.2 474.5L322.8 471.1L319.4 469.5L313.6 470.9L309.7 473.4L304.7 478.4L302.9 482.3L301.7 487.2L300.3 489.1L298.3 492.8L291.7 495.6L295.0 500.8L298.0 502.2L301.4 507.4L305.9 509.5L311.0 511.9L315.7 515.3L317.3 520.5L318.4 524.8L323.0 526.2L328.1 524.5L331.8 523.7L335.7 523.0L338.4 520.1L342.3 519.7L346.1 517.2L350.1 512.5L352.2 510.0L357.3 510.5L361.7 510.0L366.9 510.2L372.0 511.5L377.2 511.9L380.3 512.2L384.2 512.2L388.4 514.4L393.0 514.0L397.5 515.3L399.8 515.0L405.0 515.0M248.1 525.2L250.1 524.2L255.0 522.8L259.5 521.4L263.9 521.1L267.5 521.5L267.6 526.7L267.1 529.1L266.4 534.2L266.0 538.0L271.1 545.1L274.7 544.0L280.8 544.1L285.7 544.3L289.4 542.8L293.3 539.4L293.0 534.0L293.8 529.7L293.2 526.7L295.9 524.8L300.6 525.5L307.7 524.1L309.2 527.8L313.5 530.2L316.3 535.3L320.4 539.2L322.8 543.1L325.4 548.2L320.9 548.6L318.2 549.5L312.5 551.5L308.7 551.5L303.8 551.2L298.9 550.5L292.9 550.4L290.1 552.7L284.8 556.0L282.1 557.4L276.0 560.7L273.5 562.3L268.3 560.5L263.2 559.7L258.9 558.9L256.9 562.9L251.8 563.4L246.7 565.9L243.0 568.0M206.1 539.8L206.6 542.4L210.0 544.7L213.1 546.9L215.9 550.3L218.8 554.8L220.9 557.5L222.2 563.1L222.9 565.8L223.5 571.2L224.5 576.4L226.3 580.2L225.6 584.4L228.1 588.8L228.9 592.0L231.0 596.0L232.5 600.0M244.1 569.2L243.1 573.0L245.0 576.4L245.9 580.8L250.8 582.5L255.2 581.3L259.6 582.4L264.8 578.9L269.0 574.8L269.8 577.8L273.1 582.0L275.2 586.3L274.0 592.3L273.8 596.4L272.8 600.0M386.1 463.2L384.9 467.0L386.4 470.4L387.8 473.7L388.9 478.1L390.0 483.8L390.3 487.6L394.3 491.2L397.8 491.9L401.1 495.3L405.0 498.0M383.7 510.2L385.7 512.3L390.5 514.1L394.4 516.8L397.1 521.4L399.3 523.2L401.3 527.7L403.7 531.9L405.6 534.4L411.0 530.0M386.1 564.9L387.7 565.7L392.2 566.1L396.3 566.4L399.6 568.8L405.3 570.6L410.5 569.6L416.0 571.5M422.5 593.2L424.3 593.2L429.0 592.8L433.3 592.4L437.5 593.1L440.9 594.5L445.7 594.5L449.9 591.6L454.0 591.5L458.4 591.1L462.4 589.0L467.1 591.5L470.1 592.8L474.4 594.9L478.0 597.0M381.1 417.2L383.8 419.4L388.9 421.2L393.1 424.7L396.7 425.4L400.3 428.4L406.3 430.0L410.6 430.5L416.4 432.1L420.3 431.7L426.7 432.4L431.7 434.0" fill="none" stroke="#000" stroke-width="1" shape-rendering="crispEdges"/><path d="M756.7 392.2L760.4 391.6L753.8 398.3L758.6 400.6L759.0 401.9L755.0 407.1L757.7 408.7L755.9 408.7L756.6 414.3L760.8 416.4L761.3 415.7L762.5 419.6L756.8 418.3L757.9 417.3L751.2 421.1L751.6 419.4L753.4 426.8L745.5 428.5L745.7 429.3L744.2 431.6L739.8 428.4L738.0 430.4L739.3 434.2L734.2 436.0L736.3 436.9L734.4 439.0L734.0 440.5L732.0 439.3L734.6 438.3L740.9 437.7L745.2 441.9L745.5 438.4L749.1 440.4L750.5 442.4L755.8 440.6L753.1 446.0L754.7 443.2L757.2 442.7L766.5 448.9L765.1 450.5L768.4 445.6L773.2 451.4L771.8 452.8L775.2 453.9L771.5 453.1L773.5 456.9L769.9 460.7L769.6 465.2L770.7 465.8L774.2 468.0L769.2 470.3L771.7 471.9L771.6 476.7L771.6 480.6L771.7 483.9L768.3 486.9L769.3 483.5L769.1 487.0L767.6 494.9L765.3 494.4L768.0 493.4L764.7 498.3L760.2 501.9L759.0 502.5L756.9 505.4L752.7 509.9L756.5 507.1L749.3 512.6L752.6 514.7L746.8 518.3L746.0 522.6L747.1 525.6L746.5 527.6L743.3 528.3L742.6 533.3L744.7 535.2L742.3 532.9L736.4 536.3L740.1 542.7L737.1 545.4L734.3 545.2L735.4 550.0L734.6 551.1L730.2 554.6L731.7 552.8L728.0 555.4L726.6 556.9L725.4 561.1L725.0 562.9L727.4 566.1L724.2 570.5L723.8 571.5L721.7 576.5L723.7 574.2L726.3 580.8L725.2 584.2L724.0 580.1L719.0 582.5L719.0 587.6L718.3 590.0L719.3 592.5L714.0 594.3L714.4 597.7L714.9 601.2L708.2 604.0L707.7 603.1L709.1 605.4L702.8 608.5L702.5 611.6L699.8 613.0L703.8 616.3L701.2 615.0L696.3 616.7L692.4 623.6L694.2 624.9L691.7 621.8L690.0 624.0L688.3 627.9L684.0 627.2L683.5 630.8L685.2 634.5L682.4 637.4L677.7 635.8L675.7 642.0L677.7 637.4L676.5 643.7L674.7 645.5L667.2 648.4L666.2 651.5M759.6 395.1L760.2 393.8L759.3 399.2L755.1 398.1L752.8 403.7L755.9 407.7L758.1 405.3L761.0 408.0L758.6 411.0L758.3 416.3L763.0 418.8L763.3 416.5L759.1 420.4L755.4 421.3L752.5 422.2L752.5 425.9L753.3 421.4L750.5 423.2L746.1 427.4L743.3 428.4L742.7 433.7L738.8 429.0L737.0 432.5L739.3 437.9L737.6 436.5L735.8 440.2L728.3 437.4L731.9 442.8L738.6 440.7L737.7 442.3L743.9 442.9L746.8 439.2L746.6 437.1L750.2 441.7L754.0 445.2L754.6 444.6L756.8 443.8L761.3 442.0L765.6 446.5L764.4 449.6L769.2 445.5L771.7 448.0L772.0 450.6L774.6 452.1L770.0 457.4L773.9 457.6L771.1 462.6L773.6 466.6L768.4 462.8L769.3 470.8L772.2 472.0L771.0 473.2L777.7 476.7L776.8 480.5L775.0 484.8L770.4 486.1L768.9 489.8L771.4 486.3L764.3 493.9L767.8 495.6L762.8 496.8L761.1 495.8L758.9 505.0L761.0 502.8L758.0 507.4L756.7 506.3L750.5 510.4L749.1 509.2L749.7 514.8L751.1 519.6L746.1 518.3L749.1 521.9L745.9 522.3L744.2 525.6L745.8 533.5L742.4 530.1L739.3 533.6L740.5 539.2L740.4 542.6L734.8 545.1L734.2 544.1L732.2 545.2L730.1 552.7L727.7 547.9L732.1 551.6L729.6 555.4L725.1 555.4L727.6 557.3L723.2 562.5L723.4 567.1L724.5 571.0L726.7 572.8L726.2 572.0L727.5 574.0L723.8 576.1L725.8 581.7L724.1 581.2L719.6 583.0L722.4 585.0L721.1 591.7L716.4 590.3L716.0 595.0L717.2 599.6L712.6 597.2L709.4 600.2L707.7 601.2L706.8 603.2L701.8 608.0L701.5 608.0L702.6 611.4L697.2 614.0L698.5 613.7L696.2 617.2L694.5 622.6L696.4 619.0L692.8 626.8L692.1 623.2L688.1 629.6L687.0 627.1L681.8 634.1L685.3 635.7L680.0 632.9L677.4 633.9L673.6 640.5L676.9 641.9L672.1 643.4L670.3 647.8L666.8 644.5L666.7 650.4M758.8 391.7L758.6 394.8L756.9 397.7L755.6 398.7L755.3 402.5L754.1 406.0L754.9 405.1L756.8 407.6L757.7 410.1L761.2 412.7L762.8 416.4L761.8 417.3L757.0 417.7L755.2 420.5L753.8 422.4L753.6 421.2L747.8 424.4L746.3 424.3L745.2 428.4L743.9 429.2L741.7 428.8L739.5 432.2L739.2 434.1L736.3 434.4L735.6 436.3L731.7 436.5L729.0 441.3L731.9 439.4L737.5 439.0L738.1 437.9L741.7 438.8L743.7 439.0L745.2 438.7L750.3 439.3L751.9 443.6L756.5 441.9L758.7 445.6L761.7 444.6L761.9 444.9L764.8 445.2L766.3 447.5L770.4 448.1L770.6 449.7L769.7 451.8L771.7 455.3L770.0 456.7L770.8 462.5L768.2 462.9L768.4 467.6L770.1 469.2L771.1 471.0L774.3 475.0L774.1 475.9L771.8 479.5L771.3 481.1L770.6 484.9L767.7 487.0L769.6 488.5L767.8 490.1L765.5 492.9L764.9 496.2L764.2 499.0L760.2 500.6L759.0 502.3L758.7 504.4L756.3 506.5L754.5 509.0L753.0 511.1L751.2 514.3L747.9 518.8L749.9 518.1L746.3 521.1L747.2 526.0L744.2 526.1L744.6 528.4L743.1 531.5L741.4 534.4L737.6 538.6L737.8 540.9L736.8 541.6L733.7 544.1L733.8 547.4L731.6 548.0L730.6 550.2L730.1 553.4L727.1 553.5L725.9 556.3L723.6 561.0L725.4 564.2L721.9 567.0L720.7 566.7L721.8 569.6L722.1 574.5L723.1 577.0L725.4 579.2L723.9 581.9L721.7 584.4L719.8 585.4L719.6 585.7L718.9 587.9L714.1 593.4L716.3 594.4L713.2 595.4L714.0 600.7L710.2 600.5L707.5 601.7L706.3 607.2L705.1 607.7L702.4 610.5L700.9 613.7L697.8 615.2L697.7 618.6L699.4 620.1L694.7 621.8L693.4 622.3L691.7 623.3L689.2 625.4L685.3 628.7L683.7 627.5L684.2 631.7L683.3 633.9L679.1 634.7L677.3 635.3L676.0 640.3L675.3 641.1L672.4 640.8L672.4 645.8L670.4 645.2L668.7 649.5" fill="none" stroke="#000" stroke-width="0.8"/><path d="M208.7 58.4L238.1 60.5M232.5 62.5L238.1 60.5L232.9 57.6M236.9 58.4L262.9 54.4M257.9 57.7L262.9 54.4L257.1 52.8M265.1 58.4L289.1 64.4M283.2 65.4L289.1 64.4L284.4 60.7M293.3 58.4L315.3 65.4M309.3 66.1L315.3 65.4L310.8 61.4M321.5 58.4L347.5 65.4M341.6 66.3L347.5 65.4L342.8 61.6M349.7 58.4L373.7 59.4M368.1 61.6L373.7 59.4L368.3 56.7M377.9 58.4L386.8 61.9M382.5 62.1L386.8 61.9L383.8 58.8M406.1 58.4L406.1 62.4M404.7 59.2L406.1 62.4L407.5 59.2M434.3 58.4L434.3 54.4M435.7 57.6L434.3 54.4L432.9 57.6M462.5 58.4L450.5 55.4M456.0 54.4L450.5 55.4L454.9 58.8M490.7 58.4L470.7 70.4M474.1 65.5L470.7 70.4L476.7 69.7M518.9 58.4L501.9 69.4M505.2 64.4L501.9 69.4L507.8 68.5M547.1 58.4L544.1 65.4M544.0 61.9L544.1 65.4L546.7 63.0M575.3 58.4L569.3 52.4M572.9 53.8L569.3 52.4L570.7 56.0M603.5 58.4L586.2 58.0M591.8 55.6L586.2 58.0L591.6 60.5M631.7 58.4L603.7 68.4M608.0 64.3L603.7 68.4L609.7 68.9M659.9 58.4L641.9 71.4M644.9 66.2L641.9 71.4L647.8 70.2M688.1 58.4L677.1 75.4M678.0 69.5L677.1 75.4L682.1 72.1M716.3 58.4L710.3 69.4M710.7 63.8L710.3 69.4L714.8 66.0M744.5 58.4L733.5 69.4M735.6 63.8L733.5 69.4L739.1 67.3M772.7 58.4L767.3 66.5M768.0 62.2L767.3 66.5L771.0 64.2M800.9 58.4L800.9 64.4M799.5 61.2L800.9 64.4L802.3 61.2M829.1 58.4L829.1 62.4M827.7 59.2L829.1 62.4L830.5 59.2M857.3 58.4L861.9 61.9M858.5 61.1L861.9 61.9L860.2 58.8M885.5 58.4L889.4 59.3M885.9 60.0L889.4 59.3L886.6 57.2M208.7 84.0L242.7 88.0M237.0 89.8L242.7 88.0L237.5 84.9M236.9 84.0L263.9 92.0M258.0 92.8L263.9 92.0L259.3 88.1M265.1 84.0L295.1 87.0M289.4 88.9L295.1 87.0L289.9 84.0M293.3 84.0L305.3 110.0M300.8 106.1L305.3 110.0L305.2 104.0M321.5 84.0L337.5 108.0M332.4 104.8L337.5 108.0L336.5 102.1M349.7 84.0L331.7 93.0M335.5 88.4L331.7 93.0L337.7 92.7M377.9 84.0L386.0 86.5M382.2 87.0L386.0 86.5L383.1 84.0M406.1 84.0L412.1 98.0M407.7 93.9L412.1 98.0L412.2 92.0M434.3 84.0L434.3 88.0M432.9 84.8L434.3 88.0L435.7 84.8M462.5 84.0L462.5 88.0M461.1 84.8L462.5 88.0L463.9 84.8M490.7 84.0L486.7 95.0M486.3 89.7L486.7 95.0L490.4 91.2M518.9 84.0L511.9 84.0M515.1 82.6L511.9 84.0L515.1 85.4M547.1 84.0L530.1 95.0M533.4 90.0L530.1 95.0L536.0 94.1M575.3 84.0L567.4 75.9M572.1 77.8L567.4 75.9L569.2 80.7M603.5 84.0L581.5 78.0M587.4 77.1L581.5 78.0L586.1 81.8M631.7 84.0L612.7 94.0M616.4 89.3L612.7 94.0L618.7 93.6M659.9 84.0L647.9 95.0M650.3 89.5L647.9 95.0L653.6 93.1M688.1 84.0L680.1 102.0M680.1 96.0L680.1 102.0L684.6 98.0M716.3 84.0L709.3 92.0M710.7 87.4L709.3 92.0L713.6 90.0M744.5 84.0L738.3 92.1M739.4 87.6L738.3 92.1L742.3 89.9M772.7 84.0L765.7 93.0M766.9 88.0L765.7 93.0L770.2 90.6M800.9 84.0L802.4 87.1M799.7 84.9L802.4 87.1L802.3 83.6M829.1 84.0L832.3 88.3M829.3 86.6L832.3 88.3L831.6 84.9M857.3 84.0L866.3 88.0M861.9 88.0L866.3 88.0L863.3 84.7M885.5 84.0L889.5 79.5M888.5 82.8L889.5 79.5L886.3 80.9M208.7 109.6L234.7 121.6M228.7 121.5L234.7 121.6L230.8 117.1M236.9 109.6L266.9 107.6M261.6 110.4L266.9 107.6L261.3 105.5M265.1 109.6L297.1 107.6M291.8 110.4L297.1 107.6L291.5 105.5M293.3 109.6L319.3 114.6M313.5 116.0L319.3 114.6L314.4 111.2M321.5 109.6L347.5 101.6M343.0 105.5L347.5 101.6L341.5 100.9M349.7 109.6L365.7 87.6M364.5 93.5L365.7 87.6L360.5 90.6M377.9 109.6L397.9 106.6M392.8 109.8L397.9 106.6L392.1 105.0M406.1 109.6L423.1 112.6M417.3 114.1L423.1 112.6L418.1 109.2M434.3 109.6L434.3 116.6M432.9 113.4L434.3 116.6L435.7 113.4M462.5 109.6L466.5 113.6M463.2 112.3L466.5 113.6L465.2 110.3M490.7 109.6L501.7 84.6M501.7 90.6L501.7 84.6L497.3 88.6M518.9 109.6L531.9 78.6M532.0 84.6L531.9 78.6L527.5 82.7M547.1 109.6L585.1 87.6M581.6 92.5L585.1 87.6L579.1 88.2M575.3 109.6L570.3 82.6M573.7 87.5L570.3 82.6L568.9 88.4M603.5 109.6L594.5 107.6M598.6 106.8L594.5 107.6L597.8 110.1M631.7 109.6L627.7 116.6M628.1 113.0L627.7 116.6L630.6 114.5M659.9 109.6L652.0 118.0M653.7 113.1L652.0 118.0L656.8 116.0M688.1 109.6L679.1 124.6M679.8 118.6L679.1 124.6L684.0 121.2M716.3 109.6L721.3 109.6M718.1 111.0L721.3 109.6L718.1 108.2M744.5 109.6L746.1 112.0M743.1 110.1L746.1 112.0L745.5 108.5M772.7 109.6L779.7 107.6M777.0 109.9L779.7 107.6L776.2 107.1M800.9 109.6L809.9 105.6M806.9 108.9L809.9 105.6L805.5 105.6M829.1 109.6L833.1 118.6M829.8 115.6L833.1 118.6L833.1 114.2M857.3 109.6L864.3 104.6M862.3 107.9L864.3 104.6L860.5 105.4M885.5 109.6L888.5 97.6M889.5 103.1L888.5 97.6L885.1 102.0M208.7 135.2L220.7 139.2M215.0 139.8L220.7 139.2L216.5 135.4M236.9 135.2L258.9 143.2M252.9 143.6L258.9 143.2L254.6 139.0M265.1 135.2L289.1 141.2M283.2 142.2L289.1 141.2L284.4 137.5M293.3 135.2L345.3 120.2M340.7 124.1L345.3 120.2L339.4 119.4M321.5 135.2L351.5 135.2M346.0 137.6L351.5 135.2L346.0 132.8M349.7 135.2L383.7 138.2M378.0 140.2L383.7 138.2L378.5 135.3M377.9 135.2L397.9 135.2M392.4 137.6L397.9 135.2L392.4 132.8M406.1 135.2L401.1 114.2M404.7 119.0L401.1 114.2L400.0 120.1M434.3 135.2L460.3 105.2M458.6 110.9L460.3 105.2L454.9 107.7M462.5 135.2L478.5 108.2M477.8 114.2L478.5 108.2L473.6 111.7M490.7 135.2L496.7 123.2M496.4 129.2L496.7 123.2L492.1 127.0M518.9 135.2L517.9 118.2M520.7 123.5L517.9 118.2L515.8 123.8M547.1 135.2L532.1 105.2M536.7 109.0L532.1 105.2L532.4 111.2M575.3 135.2L572.3 119.2M575.7 124.1L572.3 119.2L570.9 125.0M603.5 135.2L601.5 117.2M604.5 122.4L601.5 117.2L599.7 122.9M631.7 135.2L628.8 130.3M631.7 132.3L628.8 130.3L629.2 133.7M659.9 135.2L661.7 132.5M661.1 136.0L661.7 132.5L658.7 134.4M688.1 135.2L701.1 125.2M698.2 130.5L701.1 125.2L695.3 126.6M716.3 135.2L720.3 136.2M716.9 136.8L720.3 136.2L717.5 134.0M744.5 135.2L746.0 139.1M743.5 136.6L746.0 139.1L746.2 135.6M772.7 135.2L775.1 139.5M772.3 137.4L775.1 139.5L774.8 136.0M800.9 135.2L796.9 133.2M800.4 133.4L796.9 133.2L799.1 135.9M829.1 135.2L824.7 137.2M827.0 134.6L824.7 137.2L828.2 137.2M857.3 135.2L850.3 128.2M854.5 129.8L850.3 128.2L851.9 132.4M885.5 135.2L869.5 135.2M875.0 132.8L869.5 135.2L875.0 137.6M208.7 160.8L213.7 164.8M210.3 163.9L213.7 164.8L212.1 161.7M236.9 160.8L248.9 166.8M242.9 166.5L248.9 166.8L245.1 162.2M265.1 160.8L279.1 169.8M273.2 168.9L279.1 169.8L275.8 164.8M293.3 160.8L309.3 172.8M303.4 171.5L309.3 172.8L306.4 167.6M321.5 160.8L341.5 170.8M335.5 170.5L341.5 170.8L337.7 166.2M349.7 160.8L349.7 150.8M351.5 154.9L349.7 150.8L347.9 154.9M377.9 160.8L379.9 146.8M381.5 152.6L379.9 146.8L376.7 151.9M406.1 160.8L408.1 147.8M409.7 153.5L408.1 147.8L404.9 152.8M434.3 160.8L428.3 140.8M432.2 145.3L428.3 140.8L427.5 146.8M462.5 160.8L467.1 142.9M468.1 148.8L467.1 142.9L463.4 147.6M490.7 160.8L492.7 140.8M494.6 146.5L492.7 140.8L489.7 146.0M518.9 160.8L517.9 140.8M520.6 146.1L517.9 140.8L515.7 146.4M547.1 160.8L573.1 166.8M567.2 168.0L573.1 166.8L568.3 163.2M575.3 160.8L572.3 148.8M575.7 153.2L572.3 148.8L571.3 154.3M603.5 160.8L603.5 151.8M605.2 155.5L603.5 151.8L601.8 155.5M631.7 160.8L632.7 151.8M633.9 155.7L632.7 151.8L630.6 155.3M659.9 160.8L661.2 153.8M662.0 157.2L661.2 153.8L659.2 156.7M688.1 160.8L698.1 150.8M696.0 156.4L698.1 150.8L692.5 152.9M716.3 160.8L718.8 160.9M715.5 162.2L718.8 160.9L715.6 159.3M744.5 160.8L744.5 165.8M743.1 162.6L744.5 165.8L745.9 162.6M772.7 160.8L781.7 176.8M776.9 173.2L781.7 176.8L781.1 170.8M800.9 160.8L785.9 160.8M791.4 158.4L785.9 160.8L791.4 163.2M829.1 160.8L818.1 165.8M821.7 161.7L818.1 165.8L823.5 165.8M857.3 160.8L846.3 163.8M850.3 160.5L846.3 163.8L851.4 164.6M885.5 160.8L867.5 167.8M871.7 163.5L867.5 167.8L873.5 168.1M208.7 186.4L212.7 192.4M209.7 190.5L212.7 192.4L212.1 188.9M236.9 186.4L242.9 195.4M238.8 192.8L242.9 195.4L242.1 190.6M265.1 186.4L273.1 202.4M268.5 198.6L273.1 202.4L272.8 196.4M293.3 186.4L299.3 202.4M295.1 198.1L299.3 202.4L299.7 196.4M321.5 186.4L329.5 184.4M326.6 186.7L329.5 184.4L325.8 183.8M349.7 186.4L349.7 164.4M352.1 169.9L349.7 164.4L347.3 169.9M377.9 186.4L393.9 202.4M388.3 200.3L393.9 202.4L391.8 196.8M406.1 186.4L437.1 167.4M433.7 172.3L437.1 167.4L431.2 168.2M434.3 186.4L430.3 165.4M433.7 170.3L430.3 165.4L428.9 171.2M462.5 186.4L465.5 175.4M466.3 180.5L465.5 175.4L462.2 179.4M490.7 186.4L495.7 175.4M495.7 180.8L495.7 175.4L491.6 179.0M518.9 186.4L517.1 173.2M520.3 178.3L517.1 173.2L515.4 178.9M547.1 186.4L544.1 173.4M547.7 178.2L544.1 173.4L542.9 179.3M575.3 186.4L572.3 175.5M575.6 179.5L572.3 175.5L571.6 180.5M603.5 186.4L596.5 177.6M601.0 179.9L596.5 177.6L597.8 182.5M631.7 186.4L627.7 174.4M631.5 178.6L627.7 174.4L627.1 180.1M659.9 186.4L649.0 183.0M654.1 182.4L649.0 183.0L652.9 186.4M688.1 186.4L679.1 185.3M683.0 184.1L679.1 185.3L682.6 187.4M716.3 186.4L701.7 194.2M705.4 189.4L701.7 194.2L707.7 193.8M744.5 186.4L734.0 199.5M735.5 193.7L734.0 199.5L739.4 196.7M772.7 186.4L764.5 204.0M764.6 198.0L764.5 204.0L769.1 200.1M800.9 186.4L782.8 192.8M787.2 188.6L782.8 192.8L788.8 193.2M829.1 186.4L813.1 186.4M818.6 184.0L813.1 186.4L818.6 188.8M857.3 186.4L851.3 193.4M852.5 189.4L851.3 193.4L855.0 191.6M885.5 186.4L878.5 195.4M879.7 190.4L878.5 195.4L883.0 193.0M208.7 212.0L211.7 220.0M209.0 217.3L211.7 220.0L212.0 216.2M236.9 212.0L236.9 226.0M234.5 220.5L236.9 226.0L239.3 220.5M265.1 212.0L269.1 222.0M265.6 218.6L269.1 222.0L269.3 217.2M293.3 212.0L292.3 204.0M294.2 207.1L292.3 204.0L291.2 207.5M321.5 212.0L321.5 218.0M320.1 214.8L321.5 218.0L322.9 214.8M349.7 212.0L349.7 216.0M348.3 212.8L349.7 216.0L351.1 212.8M377.9 212.0L407.9 242.0M402.3 239.9L407.9 242.0L405.8 236.4M406.1 212.0L386.1 203.0M392.1 203.0L386.1 203.0L390.1 207.5M434.3 212.0L432.3 194.0M435.3 199.2L432.3 194.0L430.5 199.7M462.5 212.0L454.5 189.0M458.6 193.4L454.5 189.0L454.0 195.0M490.7 212.0L464.7 195.0M470.6 196.0L464.7 195.0L467.9 200.0M518.9 212.0L512.9 202.0M517.2 205.0L512.9 202.0L513.5 207.2M547.1 212.0L544.1 201.0M547.4 205.0L544.1 201.0L543.3 206.1M575.3 212.0L571.3 199.0M575.2 203.5L571.3 199.0L570.6 205.0M603.5 212.0L586.5 204.0M592.5 204.1L586.5 204.0L590.4 208.5M631.7 212.0L611.7 209.0M617.5 207.4L611.7 209.0L616.8 212.2M659.9 212.0L641.9 212.0M647.4 209.6L641.9 212.0L647.4 214.4M688.1 212.0L664.1 214.0M669.4 211.1L664.1 214.0L669.8 216.0M716.3 212.0L693.3 222.0M697.3 217.6L693.3 222.0L699.3 222.1M744.5 212.0L724.5 231.0M726.8 225.5L724.5 231.0L730.2 229.0M772.7 212.0L758.7 242.0M758.8 236.0L758.7 242.0L763.2 238.1M800.9 212.0L773.9 217.0M778.8 213.6L773.9 217.0L779.7 218.4M829.1 212.0L790.1 226.0M794.4 221.8L790.1 226.0L796.1 226.5M857.3 212.0L836.3 223.0M840.0 218.3L836.3 223.0L842.3 222.6M885.5 212.0L870.5 221.0M873.9 216.1L870.5 221.0L876.5 220.3M208.7 237.6L208.9 243.1M207.4 239.9L208.9 243.1L210.2 239.8M236.9 237.6L232.9 236.6M236.3 236.0L232.9 236.6L235.7 238.8M265.1 237.6L275.1 245.6M269.5 244.1L275.1 245.6L272.5 240.5M293.3 237.6L284.3 229.6M289.5 231.2L284.3 229.6L286.5 234.5M321.5 237.6L304.5 237.6M310.0 235.2L304.5 237.6L310.0 240.0M349.7 237.6L361.7 270.6M357.5 266.3L361.7 270.6L362.1 264.6M377.9 237.6L376.9 210.6M379.5 216.0L376.9 210.6L374.7 216.2M406.1 237.6L384.1 197.6M388.9 201.2L384.1 197.6L384.6 203.6M434.3 237.6L430.3 216.6M433.7 221.5L430.3 216.6L428.9 222.4M462.5 237.6L451.5 217.6M456.3 221.2L451.5 217.6L452.0 223.6M490.7 237.6L484.7 227.6M489.0 230.6L484.7 227.6L485.3 232.8M518.9 237.6L505.9 220.6M511.2 223.5L505.9 220.6L507.3 226.4M547.1 237.6L540.1 224.6M544.9 228.3L540.1 224.6L540.5 230.6M575.3 237.6L564.3 228.6M570.1 230.2L564.3 228.6L567.0 234.0M603.5 237.6L597.5 236.6M600.9 235.7L597.5 236.6L600.4 238.5M631.7 237.6L617.7 237.6M623.2 235.2L617.7 237.6L623.2 240.0M659.9 237.6L634.9 260.6M637.3 255.1L634.9 260.6L640.6 258.7M688.1 237.6L676.1 241.6M680.3 237.8L676.1 241.6L681.8 242.2M716.3 237.6L707.3 248.6M708.9 242.8L707.3 248.6L712.7 245.9M744.5 237.6L727.5 267.6M728.1 261.6L727.5 267.6L732.3 264.0M772.7 237.6L745.7 271.6M747.2 265.8L745.7 271.6L751.0 268.8M800.9 237.6L755.9 264.6M759.3 259.7L755.9 264.6L761.9 263.9M829.1 237.6L785.1 260.6M788.8 255.9L785.1 260.6L791.1 260.2M857.3 237.6L836.3 249.6M839.8 244.8L836.3 249.6L842.3 249.0M885.5 237.6L872.5 240.6M877.3 237.0L872.5 240.6L878.4 241.8M208.7 263.2L220.9 278.5M215.6 275.7L220.9 278.5L219.4 272.7M236.9 263.2L233.9 275.2M232.9 269.7L233.9 275.2L237.3 270.8M265.1 263.2L259.1 270.2M260.3 266.2L259.1 270.2L262.8 268.4M293.3 263.2L293.8 276.2M291.2 270.9L293.8 276.2L296.0 270.8M321.5 263.2L348.5 299.2M343.3 296.3L348.5 299.2L347.2 293.3M349.7 263.2L354.8 272.5M351.0 269.6L354.8 272.5L354.4 267.8M377.9 263.2L373.9 239.2M377.2 244.2L373.9 239.2L372.4 245.0M406.1 263.2L408.1 291.2M405.3 285.9L408.1 291.2L410.2 285.6M434.3 263.2L433.3 245.2M436.0 250.5L433.3 245.2L431.2 250.8M462.5 263.2L455.5 261.2M459.0 260.7L455.5 261.2L458.2 263.5M490.7 263.2L478.7 249.2M484.1 251.8L478.7 249.2L480.4 255.0M518.9 263.2L510.9 243.2M515.2 247.4L510.9 243.2L510.7 249.2M547.1 263.2L542.1 253.2M546.0 256.4L542.1 253.2L542.3 258.2M575.3 263.2L566.4 258.3M570.9 258.7L566.4 258.3L569.1 262.0M603.5 263.2L589.5 269.2M593.6 264.8L589.5 269.2L595.5 269.3M631.7 263.2L618.7 265.2M623.7 262.0L618.7 265.2L624.4 266.8M659.9 263.2L656.9 275.2M655.9 269.7L656.9 275.2L660.3 270.8M688.1 263.2L671.1 261.2M676.8 259.4L671.1 261.2L676.3 264.3M716.3 263.2L696.4 281.8M698.7 276.3L696.4 281.8L702.1 279.9M744.5 263.2L715.5 297.2M717.2 291.4L715.5 297.2L720.9 294.6M772.7 263.2L745.7 302.2M746.8 296.3L745.7 302.2L750.8 299.1M800.9 263.2L776.9 293.2M778.4 287.4L776.9 293.2L782.2 290.5M829.1 263.2L820.1 275.2M821.4 269.3L820.1 275.2L825.3 272.3M857.3 263.2L844.3 263.2M849.6 260.8L844.3 263.2L849.6 265.6M885.5 263.2L868.5 274.2M871.8 269.2L868.5 274.2L874.4 273.3M208.7 288.8L236.7 312.8M230.9 311.1L236.7 312.8L234.1 307.4M236.9 288.8L248.1 293.4M242.7 293.6L248.1 293.4L244.4 289.5M265.1 288.8L259.2 303.9M258.9 297.9L259.2 303.9L263.5 299.7M293.3 288.8L291.3 316.8M289.2 311.2L291.3 316.8L294.1 311.5M321.5 288.8L321.5 314.8M319.1 309.3L321.5 314.8L323.9 309.3M349.7 288.8L344.9 288.5M348.2 287.3L344.9 288.5L348.0 290.1M377.9 288.8L362.9 264.8M367.9 268.1L362.9 264.8L363.7 270.7M406.1 288.8L388.1 266.8M393.5 269.5L388.1 266.8L389.7 272.6M434.3 288.8L427.3 262.8M431.1 267.5L427.3 262.8L426.4 268.7M462.5 288.8L467.5 280.8M466.9 285.0L467.5 280.8L464.0 283.2M490.7 288.8L491.7 266.8M493.9 272.4L491.7 266.8L489.0 272.2M518.9 288.8L508.9 273.8M514.0 277.0L508.9 273.8L509.9 279.7M547.1 288.8L540.1 281.8M544.3 283.4L540.1 281.8L541.7 286.0M575.3 288.8L568.3 285.8M571.8 285.7L568.3 285.8L570.7 288.4M603.5 288.8L595.5 283.8M599.7 284.4L595.5 283.8L597.9 287.3M631.7 288.8L619.7 288.8M624.6 286.6L619.7 288.8L624.6 291.0M659.9 288.8L645.9 285.8M651.8 284.6L645.9 285.8L650.7 289.3M688.1 288.8L667.9 300.5M671.4 295.7L667.9 300.5L673.8 299.9M716.3 288.8L688.3 316.8M690.4 311.2L688.3 316.8L693.9 314.7M744.5 288.8L717.5 322.8M719.0 317.0L717.5 322.8L722.8 320.0M772.7 288.8L752.7 323.8M753.3 317.8L752.7 323.8L757.5 320.3M800.9 288.8L792.9 320.8M791.9 314.9L792.9 320.8L796.6 316.1M829.1 288.8L827.1 312.8M825.1 307.1L827.1 312.8L830.0 307.5M857.3 288.8L844.0 300.1M846.6 294.7L844.0 300.1L849.8 298.4M885.5 288.8L860.5 285.8M866.2 284.0L860.5 285.8L865.6 288.9M208.7 314.4L232.8 320.2M226.9 321.3L232.8 320.2L228.1 316.5M236.9 314.4L263.9 293.4M261.1 298.7L263.9 293.4L258.1 294.8M265.1 314.4L245.1 340.4M246.5 334.6L245.1 340.4L250.4 337.5M293.3 314.4L286.0 333.7M285.6 327.7L286.0 333.7L290.2 329.4M321.5 314.4L314.5 322.2M315.9 317.7L314.5 322.2L318.8 320.3M349.7 314.4L337.3 305.6M343.2 306.7L337.3 305.6L340.3 310.7M377.9 314.4L361.9 291.4M367.0 294.5L361.9 291.4L363.0 297.3M406.1 314.4L388.1 295.4M393.6 297.7L388.1 295.4L390.1 301.1M434.3 314.4L419.0 299.2M424.6 301.3L419.0 299.2L421.1 304.8M462.5 314.4L427.5 287.4M433.3 288.8L427.5 287.4L430.3 292.7M490.7 314.4L472.7 301.4M478.6 302.6L472.7 301.4L475.7 306.6M518.9 314.4L507.8 306.6M513.7 307.8L507.8 306.6L510.9 311.8M547.1 314.4L536.1 314.4M540.6 312.4L536.1 314.4L540.6 316.4M575.3 314.4L568.3 314.4M571.5 313.0L568.3 314.4L571.5 315.8M603.5 314.4L594.5 311.4M598.7 311.0L594.5 311.4L597.6 314.3M631.7 314.4L609.7 309.4M615.6 308.2L609.7 309.4L614.5 313.0M659.9 314.4L641.9 321.4M646.1 317.1L641.9 321.4L647.9 321.7M688.1 314.4L660.1 334.4M663.1 329.2L660.1 334.4L666.0 333.2M716.3 314.4L691.3 341.4M693.2 335.7L691.3 341.4L696.8 339.0M744.5 314.4L722.5 346.4M723.6 340.5L722.5 346.4L727.6 343.3M772.7 314.4L756.7 348.4M756.8 342.4L756.7 348.4L761.2 344.5M800.9 314.4L790.9 348.4M790.1 342.5L790.9 348.4L794.8 343.8M829.1 314.4L819.1 339.4M818.9 333.4L819.1 339.4L823.4 335.2M857.3 314.4L845.3 335.4M845.9 329.4L845.3 335.4L850.1 331.9M885.5 314.4L873.5 307.4M879.5 308.0L873.5 307.4L877.0 312.3M208.7 340.0L225.2 332.6M221.2 337.0L225.2 332.6L219.2 332.6M236.9 340.0L251.9 327.1M249.4 332.5L251.9 327.1L246.2 328.8M265.1 340.0L259.5 336.0M262.9 336.7L259.5 336.0L261.3 339.0M293.3 340.0L282.4 334.8M287.8 334.9L282.4 334.8L285.9 338.9M321.5 340.0L305.5 329.0M311.4 330.1L305.5 329.0L308.6 334.1M349.7 340.0L333.4 333.8M339.4 333.5L333.4 333.8L337.7 338.1M377.9 340.0L355.9 345.0M360.7 341.4L355.9 345.0L361.8 346.2M406.1 340.0L388.6 331.9M394.6 332.0L388.6 331.9L392.6 336.5M434.3 340.0L419.3 339.0M424.9 336.9L419.3 339.0L424.6 341.8M462.5 340.0L442.5 340.0M448.0 337.6L442.5 340.0L448.0 342.4M490.7 340.0L480.7 331.0M486.4 332.8L480.7 331.0L483.1 336.5M518.9 340.0L507.9 337.0M513.0 336.2L507.9 337.0L511.9 340.3M547.1 340.0L536.1 344.0M539.9 340.3L536.1 344.0L541.4 344.4M575.3 340.0L562.3 344.0M566.8 340.1L562.3 344.0L568.3 344.7M603.5 340.0L592.7 341.3M596.9 338.8L592.7 341.3L597.4 342.7M631.7 340.0L616.7 343.6M621.5 340.0L616.7 343.6L622.6 344.7M659.9 340.0L639.9 360.0M642.0 354.4L639.9 360.0L645.5 357.9M688.1 340.0L669.1 360.0M671.1 354.3L669.1 360.0L674.6 357.7M716.3 340.0L692.3 372.0M693.6 366.1L692.3 372.0L697.5 369.1M744.5 340.0L723.5 372.0M724.5 366.1L723.5 372.0L728.6 368.8M772.7 340.0L759.7 363.0M760.3 357.0L759.7 363.0L764.5 359.4M800.9 340.0L782.9 364.0M784.2 358.1L782.9 364.0L788.1 361.1M829.1 340.0L815.1 367.0M815.4 361.0L815.1 367.0L819.8 363.3M857.3 340.0L852.6 351.8M852.4 346.1L852.6 351.8L856.7 347.8M885.5 340.0L876.5 339.7M880.3 338.2L876.5 339.7L880.1 341.5M208.7 365.6L227.8 355.5M224.1 360.2L227.8 355.5L221.8 355.9M236.9 365.6L251.1 351.4M248.9 357.0L251.1 351.4L245.5 353.6M265.1 365.6L266.1 333.6M268.4 339.2L266.1 333.6L263.5 339.0M293.3 365.6L282.7 349.2M287.7 352.5L282.7 349.2L283.6 355.2M321.5 365.6L307.1 357.4M313.1 358.0L307.1 357.4L310.7 362.2M349.7 365.6L333.7 356.6M339.7 357.2L333.7 356.6L337.3 361.4M377.9 365.6L360.5 362.4M366.3 361.0L360.5 362.4L365.4 365.8M406.1 365.6L382.0 369.8M386.9 366.5L382.0 369.8L387.8 371.3M434.3 365.6L417.4 364.8M423.0 362.6L417.4 364.8L422.8 367.5M462.5 365.6L447.5 363.9M453.2 362.1L447.5 363.9L452.6 366.9M490.7 365.6L480.7 365.6M484.8 363.8L480.7 365.6L484.8 367.4M518.9 365.6L506.9 365.6M511.8 363.4L506.9 365.6L511.8 367.8M547.1 365.6L531.1 365.6M536.6 363.2L531.1 365.6L536.6 368.0M575.3 365.6L560.3 366.6M565.6 363.8L560.3 366.6L565.9 368.7M603.5 365.6L595.5 369.6M598.1 366.5L595.5 369.6L599.5 369.4M631.7 365.6L622.7 363.6M626.8 362.8L622.7 363.6L626.0 366.1M659.9 365.6L649.9 379.6M651.1 373.7L649.9 379.6L655.1 376.6M688.1 365.6L680.1 382.6M680.2 376.6L680.1 382.6L684.6 378.7M716.3 365.6L710.3 370.6M711.8 367.4L710.3 370.6L713.7 369.6M744.5 365.6L731.5 382.6M732.9 376.8L731.5 382.6L736.8 379.7M772.7 365.6L757.7 390.6M758.4 384.6L757.7 390.6L762.6 387.2M800.9 365.6L782.9 390.6M784.1 384.7L782.9 390.6L788.1 387.6M829.1 365.6L825.1 390.6M823.5 384.8L825.1 390.6L828.4 385.6M857.3 365.6L871.3 355.6M868.3 360.8L871.3 355.6L865.4 356.8M885.5 365.6L891.6 361.7M889.7 364.6L891.6 361.7L888.1 362.2M208.7 391.2L229.7 380.2M226.0 384.9L229.7 380.2L223.7 380.6M236.9 391.2L263.9 385.2M259.1 388.8L263.9 385.2L258.0 384.0M265.1 391.2L261.3 376.4M265.0 381.1L261.3 376.4L260.3 382.3M293.3 391.2L275.3 377.2M281.1 378.6L275.3 377.2L278.1 382.5M321.5 391.2L308.0 386.0M314.0 385.7L308.0 386.0L312.2 390.2M349.7 391.2L344.7 397.2M345.7 393.8L344.7 397.2L347.9 395.7M377.9 391.2L362.9 380.2M368.8 381.5L362.9 380.2L365.9 385.4M406.1 391.2L372.1 405.2M376.2 400.9L372.1 405.2L378.1 405.4M434.3 391.2L417.0 395.3M421.8 391.6L417.0 395.3L422.9 396.4M462.5 391.2L449.7 390.3M455.1 388.3L449.7 390.3L454.8 393.0M490.7 391.2L477.7 390.2M483.2 388.2L477.7 390.2L482.9 393.0M518.9 391.2L502.9 392.2M508.2 389.4L502.9 392.2L508.5 394.3M547.1 391.2L528.1 392.2M533.4 389.5L528.1 392.2L533.7 394.4M575.3 391.2L561.3 392.2M566.6 389.4L561.3 392.2L566.9 394.3M603.5 391.2L593.5 400.2M595.9 394.7L593.5 400.2L599.2 398.4M631.7 391.2L618.7 396.2M622.9 391.9L618.7 396.2L624.7 396.5M659.9 391.2L648.7 401.3M651.1 395.8L648.7 401.3L654.4 399.5M688.1 391.2L678.4 404.7M679.6 398.8L678.4 404.7L683.6 401.6M716.3 391.2L707.3 401.2M709.1 395.5L707.3 401.2L712.8 398.8M744.5 391.2L733.4 406.5M734.6 400.6L733.4 406.5L738.6 403.5M772.7 391.2L760.7 412.2M761.3 406.2L760.7 412.2L765.5 408.7M800.9 391.2L787.6 412.2M788.5 406.3L787.6 412.2L792.6 408.9M829.1 391.2L827.7 400.9M826.5 396.6L827.7 400.9L830.0 397.2M857.3 391.2L867.3 384.2M864.5 388.9L867.3 384.2L861.9 385.2M885.5 391.2L890.2 385.5M889.3 388.9L890.2 385.5L887.0 387.0M208.7 416.8L231.7 404.8M228.0 409.5L231.7 404.8L225.7 405.2M236.9 416.8L242.3 407.4M241.8 412.3L242.3 407.4L238.4 410.3M265.1 416.8L250.1 407.8M256.1 408.5L250.1 407.8L253.5 412.7M293.3 416.8L270.3 405.8M276.3 406.0L270.3 405.8L274.2 410.4M321.5 416.8L306.5 410.8M312.5 410.6L306.5 410.8L310.7 415.1M349.7 416.8L341.7 413.8M345.5 413.6L341.7 413.8L344.4 416.5M377.9 416.8L361.6 417.1M367.1 414.6L361.6 417.1L367.2 419.5M406.1 416.8L386.3 423.5M390.7 419.4L386.3 423.5L392.3 424.1M434.3 416.8L425.3 418.8M428.6 416.3L425.3 418.8L429.4 419.6M462.5 416.8L449.5 413.8M455.4 412.6L449.5 413.8L454.3 417.4M490.7 416.8L480.8 422.1M483.9 418.1L480.8 422.1L485.9 421.8M518.9 416.8L504.9 425.8M508.2 420.8L504.9 425.8L510.8 424.9M547.1 416.8L526.1 429.8M529.5 424.8L526.1 429.8L532.0 429.0M575.3 416.8L560.3 416.8M565.8 414.4L560.3 416.8L565.8 419.2M603.5 416.8L589.5 422.2M593.8 417.9L589.5 422.2L595.5 422.5M631.7 416.8L620.5 424.6M623.6 419.5L620.5 424.6L626.4 423.5M659.9 416.8L649.8 426.9M651.9 421.3L649.8 426.9L655.4 424.8M688.1 416.8L678.1 429.5M679.6 423.7L678.1 429.5L683.4 426.7M716.3 416.8L706.3 431.8M707.3 425.9L706.3 431.8L711.4 428.6M744.5 416.8L736.5 426.8M738.0 421.2L736.5 426.8L741.6 424.2M772.7 416.8L758.7 440.8M759.3 434.8L758.7 440.8L763.6 437.3M800.9 416.8L790.4 430.3M791.9 424.5L790.4 430.3L795.7 427.5M829.1 416.8L827.2 410.4M829.5 413.1L827.2 410.4L826.8 413.9M857.3 416.8L857.3 404.8M859.5 409.7L857.3 404.8L855.1 409.7M885.5 416.8L880.9 407.6M884.5 410.6L880.9 407.6L881.1 412.2M208.7 442.4L215.1 432.5M214.3 437.7L215.1 432.5L210.7 435.4M236.9 442.4L230.9 430.4M235.5 434.2L230.9 430.4L231.2 436.4M265.1 442.4L249.1 432.4M255.0 433.2L249.1 432.4L252.4 437.4M293.3 442.4L272.3 439.4M278.1 437.8L272.3 439.4L277.4 442.6M321.5 442.4L307.5 448.4M311.6 444.0L307.5 448.4L313.5 448.5M349.7 442.4L331.7 446.4M336.5 442.8L331.7 446.4L337.6 447.6M377.9 442.4L355.9 451.4M360.0 447.1L355.9 451.4L361.9 451.6M406.1 442.4L389.1 453.4M392.4 448.4L389.1 453.4L395.0 452.5M434.3 442.4L414.3 443.4M419.6 440.7L414.3 443.4L419.9 445.6M462.5 442.4L455.5 442.4M458.7 441.0L455.5 442.4L458.7 443.8M490.7 442.4L490.7 458.4M488.3 452.9L490.7 458.4L493.1 452.9M518.9 442.4L509.9 455.4M511.0 449.5L509.9 455.4L515.0 452.3M547.1 442.4L538.1 462.4M538.1 456.4L538.1 462.4L542.6 458.4M575.3 442.4L562.8 449.1M566.5 444.3L562.8 449.1L568.8 448.6M603.5 442.4L583.5 446.4M588.4 442.9L583.5 446.4L589.4 447.7M631.7 442.4L623.7 453.4M624.9 447.5L623.7 453.4L628.9 450.4M659.9 442.4L650.9 453.4M652.5 447.6L650.9 453.4L656.3 450.7M688.1 442.4L676.5 454.1M678.6 448.5L676.5 454.1L682.1 451.9M716.3 442.4L710.3 456.4M710.2 450.4L710.3 456.4L714.7 452.3M744.5 442.4L734.3 449.6M737.2 444.8L734.3 449.6L739.8 448.5M772.7 442.4L760.7 455.4M762.6 449.7L760.7 455.4L766.2 453.0M800.9 442.4L794.1 441.7M797.5 440.6L794.1 441.7L797.2 443.5M829.1 442.4L829.1 430.4M831.3 435.3L829.1 430.4L826.9 435.3M857.3 442.4L852.3 438.4M855.7 439.3L852.3 438.4L853.9 441.5M885.5 442.4L876.5 430.4M881.7 433.3L876.5 430.4L877.8 436.3M208.7 468.0L196.3 465.8M201.8 464.4L196.3 465.8L201.0 469.0M236.9 468.0L220.9 468.0M226.4 465.6L220.9 468.0L226.4 470.4M265.1 468.0L245.1 469.0M250.4 466.3L245.1 469.0L250.7 471.2M293.3 468.0L273.3 471.0M278.4 467.8L273.3 471.0L279.1 472.6M321.5 468.0L307.1 473.9M311.2 469.6L307.1 473.9L313.1 474.1M349.7 468.0L332.1 467.0M337.7 464.8L332.1 467.0L337.4 469.7M377.9 468.0L355.9 451.0M361.7 452.4L355.9 451.0L358.7 456.3M406.1 468.0L394.1 471.0M398.5 467.6L394.1 471.0L399.6 472.0M434.3 468.0L419.2 470.2M424.2 467.0L419.2 470.2L425.0 471.9M462.5 468.0L454.5 473.0M456.9 469.5L454.5 473.0L458.7 472.4M490.7 468.0L484.8 480.4M485.0 474.4L484.8 480.4L489.4 476.5M518.9 468.0L518.9 485.0M516.5 479.5L518.9 485.0L521.3 479.5M547.1 468.0L540.0 480.4M540.6 474.5L540.0 480.4L544.9 476.9M575.3 468.0L568.3 470.0M571.0 467.7L568.3 470.0L571.8 470.5M603.5 468.0L590.5 488.0M591.4 482.1L590.5 488.0L595.5 484.7M631.7 468.0L621.6 480.6M623.1 474.8L621.6 480.6L626.9 477.9M659.9 468.0L647.7 477.9M650.4 472.5L647.7 477.9L653.5 476.3M688.1 468.0L670.1 479.0M673.5 474.1L670.1 479.0L676.1 478.2M716.3 468.0L707.3 485.0M707.7 479.0L707.3 485.0L712.0 481.3M744.5 468.0L730.5 461.0M736.5 461.3L730.5 461.0L734.3 465.6M772.7 468.0L761.4 466.4M766.3 464.9L761.4 466.4L765.7 469.1M800.9 468.0L793.9 468.0M797.1 466.6L793.9 468.0L797.1 469.4M829.1 468.0L821.1 468.0M824.4 466.5L821.1 468.0L824.4 469.5M857.3 468.0L843.3 464.0M849.2 463.2L843.3 464.0L847.9 467.9M885.5 468.0L869.5 468.0M875.0 465.6L869.5 468.0L875.0 470.4M208.7 493.6L193.9 493.6M199.4 491.2L193.9 493.6L199.4 496.1M236.9 493.6L214.9 504.6M218.7 500.0L214.9 504.6L220.9 504.3M265.1 493.6L248.1 495.6M253.3 492.5L248.1 495.6L253.8 497.4M293.3 493.6L282.3 506.6M284.0 500.8L282.3 506.6L287.7 504.0M321.5 493.6L312.5 508.6M313.2 502.6L312.5 508.6L317.4 505.2M349.7 493.6L334.8 494.6M340.1 491.8L334.8 494.6L340.4 496.7M377.9 493.6L361.9 490.6M367.7 489.2L361.9 490.6L366.8 494.0M406.1 493.6L389.0 492.0M394.7 490.1L389.0 492.0L394.3 494.9M434.3 493.6L414.3 491.6M420.0 489.7L414.3 491.6L419.5 494.6M462.5 493.6L452.5 502.6M454.9 497.1L452.5 502.6L458.2 500.8M490.7 493.6L481.7 510.6M482.1 504.6L481.7 510.6L486.4 506.9M518.9 493.6L513.9 510.6M513.1 504.7L513.9 510.6L517.8 506.0M547.1 493.6L540.5 503.0M541.5 497.9L540.5 503.0L544.9 500.3M575.3 493.6L566.3 495.6M569.6 493.1L566.3 495.6L570.4 496.4M603.5 493.6L603.5 512.6M601.1 507.1L603.5 512.6L605.9 507.1M631.7 493.6L625.8 507.9M625.6 502.0L625.8 507.9L630.1 503.8M659.9 493.6L645.9 498.0M650.4 494.0L645.9 498.0L651.9 498.7M688.1 493.6L672.1 492.6M677.7 490.5L672.1 492.6L677.4 495.4M716.3 493.6L707.3 500.6M709.7 496.1L707.3 500.6L712.3 499.4M744.5 493.6L732.5 488.6M738.3 488.5L732.5 488.6L736.5 492.9M772.7 493.6L758.5 488.7M764.5 488.2L758.5 488.7L762.9 492.8M800.9 493.6L787.9 486.6M793.9 487.0L787.9 486.6L791.6 491.4M829.1 493.6L817.1 495.6M821.7 492.6L817.1 495.6L822.4 497.0M857.3 493.6L839.3 487.6M845.3 487.0L839.3 487.6L843.7 491.7M885.5 493.6L865.5 494.6M870.8 491.9L865.5 494.6L871.1 496.8M208.7 519.2L209.5 496.3M211.8 501.9L209.5 496.3L206.9 501.7M236.9 519.2L226.9 507.2M232.3 509.8L226.9 507.2L228.5 513.0M265.1 519.2L253.6 514.8M259.2 514.5L253.6 514.8L257.5 518.7M293.3 519.2L281.2 522.9M285.5 519.2L281.2 522.9L286.9 523.6M321.5 519.2L308.2 521.8M313.1 518.3L308.2 521.8L314.0 523.2M349.7 519.2L326.6 506.4M332.5 506.9L326.6 506.4L330.2 511.2M377.9 519.2L356.8 510.5M362.8 510.4L356.8 510.5L361.0 514.9M406.1 519.2L386.1 513.2M392.1 512.4L386.1 513.2L390.6 517.1M434.3 519.2L414.3 532.2M417.6 527.2L414.3 532.2L420.2 531.3M462.5 519.2L445.5 532.2M448.4 526.9L445.5 532.2L451.3 530.8M490.7 519.2L484.7 530.2M485.1 524.6L484.7 530.2L489.2 526.8M518.9 519.2L518.9 529.2M517.1 525.1L518.9 529.2L520.7 525.1M547.1 519.2L542.3 527.3M542.8 523.1L542.3 527.3L545.7 524.8M575.3 519.2L564.3 523.2M568.1 519.5L564.3 523.2L569.6 523.6M603.5 519.2L598.1 529.8M598.4 524.5L598.1 529.8L602.3 526.5M631.7 519.2L625.5 529.3M626.2 524.0L625.5 529.3L629.9 526.3M659.9 519.2L648.1 523.5M652.2 519.6L648.1 523.5L653.7 523.9M688.1 519.2L674.0 520.7M679.2 517.7L674.0 520.7L679.7 522.5M716.3 519.2L705.0 523.2M708.9 519.4L705.0 523.2L710.3 523.6M744.5 519.2L729.7 515.3M735.6 514.4L729.7 515.3L734.4 519.1M772.7 519.2L755.7 512.2M761.7 512.0L755.7 512.2L759.8 516.5M800.9 519.2L784.9 512.2M790.9 512.2L784.9 512.2L788.9 516.6M829.1 519.2L812.1 513.2M818.1 512.7L812.1 513.2L816.5 517.3M857.3 519.2L836.3 515.2M842.1 513.8L836.3 515.2L841.2 518.6M885.5 519.2L860.5 525.2M865.3 521.5L860.5 525.2L866.4 526.3M208.7 544.8L219.7 504.8M220.6 510.7L219.7 504.8L215.9 509.4M236.9 544.8L253.9 522.8M252.5 528.6L253.9 522.8L248.6 525.6M265.1 544.8L268.2 522.7M269.9 528.5L268.2 522.7L265.0 527.8M293.3 544.8L282.4 510.5M286.4 515.0L282.4 510.5L281.8 516.4M321.5 544.8L302.3 513.5M307.3 516.9L302.3 513.5L303.1 519.5M349.7 544.8L319.7 523.8M325.6 524.9L319.7 523.8L322.8 528.9M377.9 544.8L349.9 528.8M355.9 529.4L349.9 528.8L353.4 533.6M406.1 544.8L386.1 534.8M392.1 535.1L386.1 534.8L389.9 539.4M434.3 544.8L421.3 534.8M427.1 536.2L421.3 534.8L424.2 540.1M462.5 544.8L450.5 540.8M456.2 540.2L450.5 540.8L454.7 544.6M490.7 544.8L474.7 554.8M478.0 549.8L474.7 554.8L480.6 554.0M518.9 544.8L513.9 555.8M513.9 550.4L513.9 555.8L518.0 552.2M547.1 544.8L547.1 552.8M545.6 549.5L547.1 552.8L548.6 549.5M575.3 544.8L566.3 550.8M568.9 546.7L566.3 550.8L571.1 550.0M603.5 544.8L599.5 555.8M599.1 550.5L599.5 555.8L603.2 552.0M631.7 544.8L626.1 552.1M627.1 548.1L626.1 552.1L629.7 550.1M659.9 544.8L650.8 546.5M654.2 544.1L650.8 546.5L654.8 547.5M688.1 544.8L677.7 542.3M682.4 541.4L677.7 542.3L681.5 545.3M716.3 544.8L703.0 545.8M708.3 542.9L703.0 545.8L708.6 547.8M744.5 544.8L722.6 540.4M728.4 539.0L722.6 540.4L727.5 543.8M772.7 544.8L748.7 533.8M754.7 533.9L748.7 533.8L752.7 538.3M800.9 544.8L779.9 536.8M785.9 536.5L779.9 536.8L784.1 541.0M829.1 544.8L805.1 540.8M810.9 539.3L805.1 540.8L810.1 544.1M857.3 544.8L829.3 544.8M834.8 542.4L829.3 544.8L834.8 547.2M885.5 544.8L861.5 554.8M865.6 550.4L861.5 554.8L867.5 555.0M208.7 570.4L220.9 540.0M221.1 546.0L220.9 540.0L216.6 544.2M236.9 570.4L257.9 545.4M256.2 551.2L257.9 545.4L252.5 548.0M265.1 570.4L263.7 538.3M266.4 543.7L263.7 538.3L261.5 543.9M293.3 570.4L284.3 524.4M287.8 529.3L284.3 524.4L283.0 530.2M321.5 570.4L305.5 521.4M309.5 525.8L305.5 521.4L304.9 527.4M349.7 570.4L331.7 544.4M336.8 547.5L331.7 544.4L332.8 550.3M377.9 570.4L351.9 562.4M357.9 561.7L351.9 562.4L356.4 566.3M406.1 570.4L388.1 565.4M394.0 564.5L388.1 565.4L392.7 569.2M434.3 570.4L418.3 572.4M423.4 569.3L418.3 572.4L424.0 574.1M462.5 570.4L449.5 582.4M451.9 576.9L449.5 582.4L455.2 580.5M490.7 570.4L478.7 575.4M482.7 571.1L478.7 575.4L484.5 575.5M518.9 570.4L514.9 580.4M514.7 575.6L514.9 580.4L518.4 577.0M547.1 570.4L536.1 578.4M539.1 573.2L536.1 578.4L542.0 577.2M575.3 570.4L575.3 580.4M573.5 576.3L575.3 580.4L577.1 576.3M603.5 570.4L595.5 566.4M599.5 566.6L595.5 566.4L598.1 569.5M631.7 570.4L627.8 575.2M628.7 571.8L627.8 575.2L631.0 573.6M659.9 570.4L652.0 569.5M655.4 568.4L652.0 569.5L655.1 571.3M688.1 570.4L678.1 565.4M683.1 565.6L678.1 565.4L681.3 569.3M716.3 570.4L705.2 573.4M709.2 570.1L705.2 573.4L710.3 574.2M744.5 570.4L722.9 582.4M726.5 577.6L722.9 582.4L728.8 581.8M772.7 570.4L731.7 567.4M737.3 565.4L731.7 567.4L737.0 570.2M800.9 570.4L773.9 564.4M779.8 563.2L773.9 564.4L778.7 568.0M829.1 570.4L804.9 569.6M810.4 567.3L804.9 569.6L810.3 572.2M857.3 570.4L823.3 575.4M828.4 572.2L823.3 575.4L829.1 577.0M885.5 570.4L853.5 582.4M857.8 578.2L853.5 582.4L859.5 582.8M208.7 596.0L221.7 567.0M221.7 573.0L221.7 567.0L217.2 571.0M236.9 596.0L243.9 567.0M245.0 572.9L243.9 567.0L240.2 571.8M265.1 596.0L258.1 559.0M261.5 563.9L258.1 559.0L256.7 564.8M293.3 596.0L266.3 573.0M272.1 574.7L266.3 573.0L268.9 578.4M321.5 596.0L302.5 569.0M307.7 572.1L302.5 569.0L303.7 574.9M349.7 596.0L331.2 578.8M336.9 580.8L331.2 578.8L333.6 584.4M377.9 596.0L351.9 593.0M357.6 591.2L351.9 593.0L357.1 596.1M406.1 596.0L393.1 592.0M399.1 591.3L393.1 592.0L397.6 595.9M434.3 596.0L426.3 589.0M430.9 590.4L426.3 589.0L428.3 593.3M462.5 596.0L448.5 606.0M451.5 600.8L448.5 606.0L454.4 604.8M490.7 596.0L480.7 598.0M484.4 595.3L480.7 598.0L485.2 599.0M518.9 596.0L507.9 608.0M509.8 602.3L507.9 608.0L513.4 605.6M547.1 596.0L529.1 611.0M531.7 605.6L529.1 611.0L534.9 609.4M575.3 596.0L574.3 626.0M572.0 620.4L574.3 626.0L576.9 620.6M603.5 596.0L603.5 605.0M601.8 601.3L603.5 605.0L605.2 601.3M631.7 596.0L631.7 605.0M630.0 601.3L631.7 605.0L633.4 601.3M659.9 596.0L654.4 592.3M657.9 592.9L654.4 592.3L656.3 595.3M688.1 596.0L680.1 594.0M683.8 593.4L680.1 594.0L683.0 596.3M716.3 596.0L709.7 606.8M710.4 601.1L709.7 606.8L714.4 603.6M744.5 596.0L730.5 629.0M730.4 623.0L730.5 629.0L734.9 624.9M772.7 596.0L755.7 598.0M760.9 594.9L755.7 598.0L761.4 599.8M800.9 596.0L778.3 595.6M783.9 593.3L778.3 595.6L783.8 598.2M829.1 596.0L810.1 596.0M815.6 593.6L810.1 596.0L815.6 598.4M857.3 596.0L844.3 602.0M848.2 597.5L844.3 602.0L850.3 601.9M885.5 596.0L853.5 604.0M858.2 600.3L853.5 604.0L859.4 605.0M208.7 621.6L217.7 598.6M218.0 604.6L217.7 598.6L213.4 602.8M236.9 621.6L236.9 588.6M239.3 594.1L236.9 588.6L234.5 594.1M265.1 621.6L248.1 594.6M253.1 597.9L248.1 594.6L248.9 600.5M293.3 621.6L273.3 594.6M278.5 597.5L273.3 594.6L274.6 600.5M321.5 621.6L309.5 613.6M315.4 614.6L309.5 613.6L312.7 618.7M349.7 621.6L333.7 608.6M339.5 610.2L333.7 608.6L336.4 614.0M377.9 621.6L363.9 612.6M369.8 613.5L363.9 612.6L367.2 617.6M406.1 621.6L391.1 624.6M396.0 621.1L391.1 624.6L397.0 625.9M434.3 621.6L420.3 636.6M422.2 630.9L420.3 636.6L425.8 634.3M462.5 621.6L445.5 629.6M449.4 625.1L445.5 629.6L451.5 629.5M490.7 621.6L482.7 614.6M487.3 616.0L482.7 614.6L484.7 618.9M518.9 621.6L508.5 622.3M512.6 620.1L508.5 622.3L512.9 623.9M547.1 621.6L534.7 630.6M537.7 625.4L534.7 630.6L540.6 629.4M575.3 621.6L570.3 638.0M569.6 632.1L570.3 638.0L574.2 633.5M603.5 621.6L599.6 627.4M600.2 624.0L599.6 627.4L602.5 625.6M631.7 621.6L625.4 617.1M628.8 617.8L625.4 617.1L627.1 620.1M659.9 621.6L654.9 605.6M658.9 610.1L654.9 605.6L654.2 611.6M688.1 621.6L681.1 618.6M684.6 618.5L681.1 618.6L683.5 621.1M716.3 621.6L716.3 629.6M714.8 626.3L716.3 629.6L717.8 626.3M744.5 621.6L750.5 644.6M746.7 639.9L750.5 644.6L751.5 638.7M772.7 621.6L762.1 633.7M763.9 627.9L762.1 633.7L767.6 631.2M800.9 621.6L781.1 628.9M785.4 624.7L781.1 628.9L787.1 629.3M829.1 621.6L805.5 627.9M810.2 624.1L805.5 627.9L811.5 628.8M857.3 621.6L828.3 627.6M833.2 624.1L828.3 627.6L834.2 628.9M885.5 621.6L861.5 630.6M865.8 626.4L861.5 630.6L867.5 631.0M208.7 647.2L205.0 622.5M208.3 627.5L205.0 622.5L203.4 628.2M236.9 647.2L219.9 621.2M224.9 624.4L219.9 621.2L220.9 627.1M265.1 647.2L253.1 628.2M258.1 631.5L253.1 628.2L254.0 634.1M293.3 647.2L276.4 627.3M281.8 629.9L276.4 627.3L278.0 633.1M321.5 647.2L306.5 639.2M312.5 639.6L306.5 639.2L310.2 643.9M349.7 647.2L339.7 635.2M345.1 637.8L339.7 635.2L341.3 641.0M377.9 647.2L361.9 636.2M367.8 637.3L361.9 636.2L365.0 641.3M406.1 647.2L391.1 651.2M395.8 647.4L391.1 651.2L397.0 652.2M434.3 647.2L424.3 635.2M429.7 637.8L424.3 635.2L425.9 641.0M462.5 647.2L452.5 638.2M458.2 640.0L452.5 638.2L454.9 643.7M490.7 647.2L478.7 638.2M484.6 639.5L478.7 638.2L481.6 643.4M518.9 647.2L508.9 641.2M514.1 641.8L508.9 641.2L511.9 645.5M547.1 647.2L539.7 635.4M544.7 638.8L539.7 635.4L540.6 641.4M575.3 647.2L567.4 636.3M572.6 639.3L567.4 636.3L568.7 642.2M603.5 647.2L591.5 637.1M597.3 638.8L591.5 637.1L594.1 642.5M631.7 647.2L619.7 631.2M624.9 634.1L619.7 631.2L621.0 637.1M659.9 647.2L647.4 640.3M653.4 640.8L647.4 640.3L651.1 645.1M688.1 647.2L677.1 635.2M682.6 637.6L677.1 635.2L679.0 640.9M716.3 647.2L716.3 657.2M714.5 653.1L716.3 657.2L718.1 653.1M744.5 647.2L753.5 672.2M749.3 667.9L753.5 672.2L753.9 666.2M772.7 647.2L757.6 661.8M759.9 656.2L757.6 661.8L763.3 659.7M800.9 647.2L782.9 655.2M786.9 650.7L782.9 655.2L788.9 655.2M829.1 647.2L803.1 658.2M807.2 653.8L803.1 658.2L809.1 658.3M857.3 647.2L831.3 657.2M835.5 652.9L831.3 657.2L837.3 657.5M885.5 647.2L859.5 657.2M863.7 652.9L859.5 657.2L865.5 657.5M208.7 672.8L191.7 649.7M196.9 652.7L191.7 649.7L193.0 655.6M236.9 672.8L214.9 648.8M220.4 651.2L214.9 648.8L216.8 654.5M265.1 672.8L243.1 652.8M248.8 654.7L243.1 652.8L245.5 658.3M293.3 672.8L272.3 649.8M277.8 652.2L272.3 649.8L274.2 655.5M321.5 672.8L307.2 661.0M313.0 662.6L307.2 661.0L309.9 666.4M349.7 672.8L334.7 661.8M340.6 663.1L334.7 661.8L337.7 667.0M377.9 672.8L364.9 661.8M370.7 663.5L364.9 661.8L367.5 667.2M406.1 672.8L395.1 659.8M400.5 662.4L395.1 659.8L396.8 665.6M434.3 672.8L421.3 665.8M427.3 666.2L421.3 665.8L425.0 670.6M462.5 672.8L450.5 665.8M456.5 666.4L450.5 665.8L454.0 670.7M490.7 672.8L477.7 663.8M483.6 664.9L477.7 663.8L480.8 668.9M518.9 672.8L508.9 653.8M513.6 657.5L508.9 653.8L509.3 659.8M547.1 672.8L545.1 651.8M548.1 657.0L545.1 651.8L543.2 657.5M575.3 672.8L569.3 656.8M573.5 661.1L569.3 656.8L568.9 662.8M603.5 672.8L590.5 659.8M596.1 661.9L590.5 659.8L592.6 665.4M631.7 672.8L616.7 667.8M622.7 667.2L616.7 667.8L621.1 671.9M659.9 672.8L640.9 672.8M646.4 670.4L640.9 672.8L646.4 675.2M688.1 672.8L672.1 681.8M675.7 677.0L672.1 681.8L678.1 681.2M716.3 672.8L709.3 690.8M709.0 684.8L709.3 690.8L713.6 686.6M744.5 672.8L745.5 696.8M742.8 691.4L745.5 696.8L747.7 691.2M772.7 672.8L742.7 684.8M746.9 680.5L742.7 684.8L748.7 685.0M800.9 672.8L772.9 684.8M777.0 680.4L772.9 684.8L778.9 684.9M829.1 672.8L796.1 684.8M800.4 680.6L796.1 684.8L802.1 685.2M857.3 672.8L831.3 685.8M835.1 681.2L831.3 685.8L837.3 685.5M885.5 672.8L856.5 685.8M860.5 681.3L856.5 685.8L862.5 685.8M208.7 698.4L194.0 683.2M199.5 685.4L194.0 683.2L196.0 688.8M236.9 698.4L220.4 683.9M226.2 685.7L220.4 683.9L222.9 689.3M265.1 698.4L245.1 682.4M250.9 683.9L245.1 682.4L247.8 687.7M293.3 698.4L287.3 683.4M291.6 687.6L287.3 683.4L287.1 689.4M321.5 698.4L311.5 692.4M316.7 693.0L311.5 692.4L314.5 696.7M349.7 698.4L334.4 685.6M340.2 687.3L334.4 685.6L337.1 691.0M377.9 698.4L364.9 683.4M370.3 685.9L364.9 683.4L366.6 689.1M406.1 698.4L394.1 684.4M399.5 687.0L394.1 684.4L395.8 690.2M434.3 698.4L423.3 680.4M428.2 683.8L423.3 680.4L424.1 686.4M462.5 698.4L455.5 679.4M459.7 683.7L455.5 679.4L455.1 685.4M490.7 698.4L477.7 676.4M482.6 679.9L477.7 676.4L478.4 682.4M518.9 698.4L505.9 684.4M511.4 686.7L505.9 684.4L507.8 690.1M547.1 698.4L531.1 688.4M537.0 689.2L531.1 688.4L534.4 693.4M575.3 698.4L562.2 689.0M568.1 690.2L562.2 689.0L565.3 694.2M603.5 698.4L581.9 699.1M587.3 696.5L581.9 699.1L587.5 701.4M631.7 698.4L599.7 707.4M604.3 703.6L599.7 707.4L605.6 708.3M659.9 698.4L632.9 710.4M636.9 705.9L632.9 710.4L638.9 710.4M688.1 698.4L663.1 714.4M666.4 709.4L663.1 714.4L669.0 713.5M716.3 698.4L700.3 721.4M701.4 715.5L700.3 721.4L705.4 718.3M744.5 698.4L712.5 707.4M717.1 703.6L712.5 707.4L718.4 708.3M772.7 698.4L736.7 711.4M741.0 707.2L736.7 711.4L742.7 711.8M800.9 698.4L766.9 711.4M771.1 707.2L766.9 711.4L772.9 711.7M829.1 698.4L796.1 714.4M800.0 709.8L796.1 714.4L802.1 714.2M857.3 698.4L834.3 707.4M838.5 703.1L834.3 707.4L840.3 707.7M885.5 698.4L858.5 699.4M863.9 696.8L858.5 699.4L864.1 701.6M208.7 724.0L198.7 718.5M203.8 718.9L198.7 718.5L201.8 722.6M236.9 724.0L228.9 722.0M232.6 721.4L228.9 722.0L231.8 724.3M265.1 724.0L244.1 711.0M250.0 711.8L244.1 711.0L247.5 716.0M293.3 724.0L285.3 724.0M288.6 722.5L285.3 724.0L288.6 725.5M321.5 724.0L301.5 709.0M307.4 710.3L301.5 709.0L304.4 714.2M349.7 724.0L329.7 707.0M335.5 708.7L329.7 707.0L332.3 712.4M377.9 724.0L357.9 707.0M363.7 708.7L357.9 707.0L360.5 712.4M406.1 724.0L385.1 709.0M391.0 710.2L385.1 709.0L388.1 714.2M434.3 724.0L411.3 711.0M417.3 711.6L411.3 711.0L414.9 715.8M462.5 724.0L445.5 707.0M451.1 709.1L445.5 707.0L447.6 712.6M490.7 724.0L468.7 717.0M474.7 716.3L468.7 717.0L473.2 721.0M518.9 724.0L488.9 721.0M494.6 719.1L488.9 721.0L494.1 724.0M547.1 724.0L522.1 731.0M526.7 727.2L522.1 731.0L528.0 731.9M575.3 724.0L552.3 728.0M557.2 724.6L552.3 728.0L558.1 729.5M603.5 724.0L576.5 735.0M580.7 730.7L576.5 735.0L582.5 735.2M631.7 724.0L599.7 738.0M603.7 733.6L599.7 738.0L605.7 738.0M659.9 724.0L623.9 739.0M628.0 734.6L623.9 739.0L629.9 739.2M688.1 724.0L654.1 742.0M657.8 737.3L654.1 742.0L660.1 741.6M716.3 724.0L688.3 748.0M690.9 742.6L688.3 748.0L694.1 746.3M744.5 724.0L707.5 730.0M712.5 726.7L707.5 730.0L713.3 731.5M772.7 724.0L735.7 729.0M740.8 725.8L735.7 729.0L741.5 730.7M800.9 724.0L775.9 730.0M780.7 726.3L775.9 730.0L781.8 731.1M829.1 724.0L809.1 726.0M814.3 723.0L809.1 726.0L814.8 727.9M857.3 724.0L828.3 732.0M832.9 728.2L828.3 732.0L834.2 732.9M885.5 724.0L856.5 735.0M860.8 730.8L856.5 735.0L862.5 735.3M208.7 749.6L197.9 743.1M203.5 743.8L197.9 743.1L201.1 747.8M236.9 749.6L226.2 744.6M231.5 744.7L226.2 744.6L229.7 748.6M265.1 749.6L248.1 739.2M254.0 740.0L248.1 739.2L251.5 744.1M293.3 749.6L281.4 744.0M287.3 744.1L281.4 744.0L285.3 748.5M321.5 749.6L304.0 736.6M309.8 737.9L304.0 736.6L306.9 741.8M349.7 749.6L330.8 733.8M336.5 735.5L330.8 733.8L333.4 739.2M377.9 749.6L358.8 733.7M364.6 735.3L358.8 733.7L361.4 739.1M406.1 749.6L386.4 735.0M392.2 736.3L386.4 735.0L389.3 740.2M434.3 749.6L414.1 735.9M420.0 737.0L414.1 735.9L417.2 741.0M462.5 749.6L444.8 735.1M450.6 736.7L444.8 735.1L447.5 740.4M490.7 749.6L469.8 740.9M475.8 740.8L469.8 740.9L474.0 745.3M518.9 749.6L493.3 745.7M499.1 744.1L493.3 745.7L498.4 748.9M547.1 749.6L523.1 752.4M528.3 749.4L523.1 752.4L528.9 754.2M575.3 749.6L551.7 754.1M556.6 750.7L551.7 754.1L557.5 755.5M603.5 749.6L576.6 759.6M580.9 755.4L576.6 759.6L582.6 760.0M631.7 749.6L601.1 762.2M605.2 757.9L601.1 762.2L607.1 762.4M659.9 749.6L626.9 763.9M631.0 759.5L626.9 763.9L632.9 764.0M688.1 749.6L656.6 766.7M660.2 761.9L656.6 766.7L662.6 766.2M716.3 749.6L687.4 768.6M690.6 763.6L687.4 768.6L693.3 767.6M744.5 749.6L710.9 758.9M715.5 755.0L710.9 758.9L716.8 759.8M772.7 749.6L739.0 756.3M743.9 752.8L739.0 756.3L744.9 757.6M800.9 749.6L774.2 756.1M779.0 752.4L774.2 756.1L780.1 757.2M829.1 749.6L805.7 754.5M810.6 750.9L805.7 754.5L811.6 755.7M857.3 749.6L829.7 757.4M834.3 753.6L829.7 757.4L835.7 758.3M885.5 749.6L857.0 759.5M861.4 755.4L857.0 759.5L863.0 760.0" fill="none" stroke="#000" stroke-width="1" shape-rendering="crispEdges"/><circle cx="734" cy="95" r="5" fill="none" stroke="#8228e6" stroke-width="2"/><circle cx="459" cy="159" r="5" fill="none" stroke="#8228e6" stroke-width="2"/><circle cx="578" cy="176" r="5" fill="none" stroke="#8228e6" stroke-width="2"/><circle cx="600" cy="197" r="5" fill="none" stroke="#8228e6" stroke-width="2"/><circle cx="537" cy="236" r="5" fill="none" stroke="#8228e6" stroke-width="2"/><circle cx="487" cy="245" r="5" fill="none" stroke="#8228e6" stroke-width="2"/><circle cx="605" cy="270" r="5" fill="none" stroke="#8228e6" stroke-width="2"/><circle cx="326.5" cy="232.5" r="5" fill="none" stroke="#8228e6" stroke-width="2"/><circle cx="258.5" cy="303" r="5" fill="none" stroke="#8228e6" stroke-width="2"/><circle cx="397.5" cy="356" r="5" fill="none" stroke="#8228e6" stroke-width="2"/><circle cx="523" cy="334.5" r="5" fill="none" stroke="#8228e6" stroke-width="2"/><circle cx="630.5" cy="410.5" r="5" fill="none" stroke="#8228e6" stroke-width="2"/><circle cx="670.5" cy="399.5" r="5" fill="none" stroke="#8228e6" stroke-width="2"/><circle cx="748" cy="411" r="5" fill="none" stroke="#8228e6" stroke-width="2"/><circle cx="718" cy="446" r="5" fill="none" stroke="#8228e6" stroke-width="2"/><circle cx="553" cy="458" r="5" fill="none" stroke="#8228e6" stroke-width="2"/><circle cx="604" cy="508.5" r="5" fill="none" stroke="#8228e6" stroke-width="2"/><circle cx="714" cy="572" r="5" fill="none" stroke="#8228e6" stroke-width="2"/><circle cx="542" cy="679" r="5" fill="none" stroke="#8228e6" stroke-width="2"/><circle cx="261" cy="462" r="5" fill="none" stroke="#8228e6" stroke-width="2"/><circle cx="332" cy="496.5" r="5" fill="none" stroke="#8228e6" stroke-width="2"/><circle cx="521" cy="530" r="5" fill="none" stroke="#8228e6" stroke-width="2"/><circle cx="337" cy="584.5" r="5" fill="none" stroke="#8228e6" stroke-width="2"/><circle cx="213" cy="626" r="5" fill="none" stroke="#8228e6" stroke-width="2"/><circle cx="387" cy="695" r="5" fill="none" stroke="#8228e6" stroke-width="2"/>
</g>
<rect x="207" y="50" width="686" height="699" fill="none" stroke="#000" stroke-width="2"/>
<line x1="197" y1="64.3" x2="207" y2="64.3" stroke="#000" stroke-width="1.3"/>
<text x="145.5" y="72.1" font-size="21.5" fill="#ff3030" stroke="#fff" stroke-width="0.15" textLength="46" lengthAdjust="spacing">44°N</text>
<line x1="197" y1="153.4" x2="207" y2="153.4" stroke="#000" stroke-width="1.3"/>
<text x="145.5" y="161.2" font-size="21.5" fill="#ff3030" stroke="#fff" stroke-width="0.15" textLength="46" lengthAdjust="spacing">41°N</text>
<line x1="197" y1="242.5" x2="207" y2="242.5" stroke="#000" stroke-width="1.3"/>
<text x="145.5" y="250.3" font-size="21.5" fill="#ff3030" stroke="#fff" stroke-width="0.15" textLength="46" lengthAdjust="spacing">38°N</text>
<line x1="197" y1="331.6" x2="207" y2="331.6" stroke="#000" stroke-width="1.3"/>
<text x="145.5" y="339.4" font-size="21.5" fill="#ff3030" stroke="#fff" stroke-width="0.15" textLength="46" lengthAdjust="spacing">35°N</text>
<line x1="197" y1="420.7" x2="207" y2="420.7" stroke="#000" stroke-width="1.3"/>
<text x="145.5" y="428.5" font-size="21.5" fill="#ff3030" stroke="#fff" stroke-width="0.15" textLength="46" lengthAdjust="spacing">32°N</text>
<line x1="197" y1="509.8" x2="207" y2="509.8" stroke="#000" stroke-width="1.3"/>
<text x="145.5" y="517.6" font-size="21.5" fill="#ff3030" stroke="#fff" stroke-width="0.15" textLength="46" lengthAdjust="spacing">29°N</text>
<line x1="197" y1="598.9" x2="207" y2="598.9" stroke="#000" stroke-width="1.3"/>
<text x="145.5" y="606.7" font-size="21.5" fill="#ff3030" stroke="#fff" stroke-width="0.15" textLength="46" lengthAdjust="spacing">26°N</text>
<line x1="197" y1="688.0" x2="207" y2="688.0" stroke="#000" stroke-width="1.3"/>
<text x="145.5" y="695.8" font-size="21.5" fill="#ff3030" stroke="#fff" stroke-width="0.15" textLength="46" lengthAdjust="spacing">23°N</text>
<line x1="215.2" y1="749" x2="215.2" y2="760" stroke="#000" stroke-width="1.3"/>
<text x="197.2" y="783.5" font-size="21.5" fill="#ff3030" stroke="#fff" stroke-width="0.15" textLength="56" lengthAdjust="spacing">103°E</text>
<line x1="312.9" y1="749" x2="312.9" y2="760" stroke="#000" stroke-width="1.3"/>
<text x="294.9" y="783.5" font-size="21.5" fill="#ff3030" stroke="#fff" stroke-width="0.15" textLength="56" lengthAdjust="spacing">106°E</text>
<line x1="410.6" y1="749" x2="410.6" y2="760" stroke="#000" stroke-width="1.3"/>
<text x="392.6" y="783.5" font-size="21.5" fill="#ff3030" stroke="#fff" stroke-width="0.15" textLength="56" lengthAdjust="spacing">109°E</text>
<line x1="508.3" y1="749" x2="508.3" y2="760" stroke="#000" stroke-width="1.3"/>
<text x="490.3" y="783.5" font-size="21.5" fill="#ff3030" stroke="#fff" stroke-width="0.15" textLength="56" lengthAdjust="spacing">112°E</text>
<line x1="606.0" y1="749" x2="606.0" y2="760" stroke="#000" stroke-width="1.3"/>
<text x="588.0" y="783.5" font-size="21.5" fill="#ff3030" stroke="#fff" stroke-width="0.15" textLength="56" lengthAdjust="spacing">115°E</text>
<line x1="703.7" y1="749" x2="703.7" y2="760" stroke="#000" stroke-width="1.3"/>
<text x="685.7" y="783.5" font-size="21.5" fill="#ff3030" stroke="#fff" stroke-width="0.15" textLength="56" lengthAdjust="spacing">118°E</text>
<line x1="801.4" y1="749" x2="801.4" y2="760" stroke="#000" stroke-width="1.3"/>
<text x="783.4" y="783.5" font-size="21.5" fill="#ff3030" stroke="#fff" stroke-width="0.15" textLength="56" lengthAdjust="spacing">121°E</text>
<line x1="892.5" y1="749" x2="892.5" y2="760" stroke="#000" stroke-width="1.3"/>
<text x="875" y="783" font-size="21.5" fill="#ff3030" stroke="#fff" stroke-width="0.15" textLength="54.5" lengthAdjust="spacing">124°E</text>
<text x="171.2" y="34.5" font-size="23.5" fill="#000" stroke="#fff" stroke-width="0.3" textLength="54.1" lengthAdjust="spacing">2025</text>
<text x="252.5" y="34.5" font-size="23.5" fill="#000" stroke="#fff" stroke-width="0.3" textLength="23.7" lengthAdjust="spacing">10</text>
<text x="308.0" y="34.5" font-size="23.5" fill="#000" stroke="#fff" stroke-width="0.3" textLength="25.2" lengthAdjust="spacing">14</text>
<text x="417.2" y="34.5" font-size="23.5" fill="#000" stroke="#fff" stroke-width="0.3" textLength="63.3" lengthAdjust="spacing">cmaq</text>
<text x="532.9" y="34.5" font-size="23.5" fill="#000" stroke="#fff" stroke-width="0.3" textLength="63.0" lengthAdjust="spacing">12km</text>
<text x="702.5" y="34.5" font-size="23.5" fill="#000" stroke="#fff" stroke-width="0.3" textLength="24.0" lengthAdjust="spacing">10</text>
<text x="757.5" y="34.5" font-size="23.5" fill="#000" stroke="#fff" stroke-width="0.3" textLength="26.0" lengthAdjust="spacing">14</text>
<text x="807.3" y="34.5" font-size="23.5" fill="#000" stroke="#fff" stroke-width="0.3" textLength="23.9" lengthAdjust="spacing">18</text>
<text x="870.3" y="34.5" font-size="23.5" fill="#ff3030" stroke="#fff" stroke-width="0.3" textLength="42.0" lengthAdjust="spacing">AQI</text>
<text x="689.5" y="34.5" font-size="23.5" fill="#000" stroke="#fff" stroke-width="0.3" textLength="9.0" lengthAdjust="spacing">:</text>
<text x="401.5" y="34.5" font-size="23.5" fill="#000" stroke="#fff" stroke-width="0.3" textLength="15.0" lengthAdjust="spacingAndGlyphs">/</text>
<text x="358.5" y="34.5" font-size="23.5" fill="#000" stroke="#fff" stroke-width="0.3" textLength="40.7" lengthAdjust="spacingAndGlyphs">WRF</text>
<path transform="translate(229.0,13.0) scale(1.125,1.100)" d="M6,0 L2,6 M5,3 L18,3 M3,8 L16,8 M5,8 L5,13 M0,13 L20,13 M11,3 L11,20" fill="none" stroke="#000" stroke-width="0.978"/>
<path transform="translate(280.0,13.0) scale(0.950,1.100)" d="M5,1 L5,13 Q5,18 1,20 M5,1 L16,1 L16,19 L13,18 M5,7 L16,7 M5,12 L16,12" fill="none" stroke="#000" stroke-width="1.158"/>
<path transform="translate(338.0,13.0) scale(0.700,1.100)" d="M3,1 L3,19 M3,1 L17,1 L17,19 M3,10 L17,10 M3,18 L17,18" fill="none" stroke="#000" stroke-width="1.571"/>
<path transform="translate(481.6,13.0) scale(1.020,1.100)" d="M0,6 L8,6 M4,0 L4,20 M4,7 L0,14 M4,8 L8,11 M9,3 L20,3 M12,0 L12,5 M17,0 L17,5 M10,6 L19,6 L19,12 L10,12 Z M10,9 L19,9 M9,14 L20,14 M14.5,12 L14.5,15 L10,20 M14.5,15 L20,20" fill="none" stroke="#000" stroke-width="1.078"/>
<path transform="translate(505.8,13.0) scale(1.035,1.100)" d="M0,6 L17,6 M2,11 L9,11 M5.5,11 L5.5,17 M1,18 L10,16 M11,0 Q12,12 19,19 L19,14 M15,1 L17,3" fill="none" stroke="#000" stroke-width="1.063"/>
<path transform="translate(596.4,13.0) scale(1.145,1.100)" d="M0,1 L8,1 L5,5 M3,4 L7,7 M0,9 L9,9 L8,11 M5,9 L5,19 L3,18 M10,1 L20,1 M14.5,1 L13.5,4 M11,4 L19,4 L19,14 L11,14 Z M15,6 L15,12 L11,19 M15.5,14 L20,19" fill="none" stroke="#000" stroke-width="0.961"/>
<path transform="translate(621.0,13.0) scale(1.050,1.100)" d="M0,6 L7,6 M3.5,0 L3.5,19 L1,18 M0,13 L7,10 M9,1 L18,1 L18,6 L15,6 M9,1 L9,20 M10,9 L18,9 Q16,15 10,20 M12,11 L19,20" fill="none" stroke="#000" stroke-width="1.048"/>
<path transform="translate(644.0,13.0) scale(1.150,1.100)" d="M9.5,0 L11,2 M2,4 L18,4 M6,5 L7.5,8 M14,5 L12.5,8 M1,9 L20,9 M4,9 L4,14 Q3.5,18 0,20" fill="none" stroke="#000" stroke-width="0.957"/>
<path transform="translate(670.8,13.0) scale(0.960,1.100)" d="M5,0 L15,0 L15,7 L5,7 Z M0,10 L9,10 L9,19 L0,19 Z M11,10 L20,10 L20,19 L11,19 Z" fill="none" stroke="#000" stroke-width="1.146"/>
<path transform="translate(730.5,13.0) scale(0.955,1.100)" d="M5,1 L5,13 Q5,18 1,20 M5,1 L16,1 L16,19 L13,18 M5,7 L16,7 M5,12 L16,12" fill="none" stroke="#000" stroke-width="1.152"/>
<path transform="translate(788.7,13.0) scale(0.665,1.100)" d="M3,1 L3,19 M3,1 L17,1 L17,19 M3,10 L17,10 M3,18 L17,18" fill="none" stroke="#000" stroke-width="1.654"/>
<path transform="translate(836.5,13.0) scale(1.050,1.100)" d="M0,3 L7,3 L7,16 L0,16 Z M0,9.5 L7,9.5 M9,6 L20,6 M16,0 L16,19 L13,18 M11,10 L13,13" fill="none" stroke="#000" stroke-width="1.048"/>
<path transform="translate(360.5,792.0) scale(0.900,0.950)" d="M3,0 L3,13 Q3,17 0,20 M3,6 L9,6 M6,0 L6,6 M3,11 L9,11 L9,20 M11,2 L19,1 M11,2 L11,12 Q11,17 9,20 M12,7 L18,7 Q16,14 11,20 M13,10 L19,20" fill="none" stroke="#000" stroke-width="1.222"/>
<path transform="translate(379.5,792.0) scale(0.900,0.950)" d="M0,6 L8,6 M4,0 L4,20 M4,7 L0,14 M4,8 L8,11 M10,2 L18,2 Q16,12 9,20 M11,6 L19,20" fill="none" stroke="#000" stroke-width="1.222"/>
<path transform="translate(399.5,792.0) scale(0.900,0.950)" d="M1,1 L8,0 M2,4 L8,4 L8,9 L2,9 M2,4 L2,13 Q2,17 0,20 M18,0 L11,2 M11,2 L11,14 Q11,18 9,20 M11,8 L20,8 M15.5,8 L15.5,20" fill="none" stroke="#000" stroke-width="1.222"/>
<path transform="translate(419.5,792.0) scale(0.900,0.950)" d="M0,5 L20,5 M10,0 L3,14 M6,9 L6,20 M6,9 L16,9 L16,20 L13,19 M6,13 L16,13 M6,16.5 L16,16.5" fill="none" stroke="#000" stroke-width="1.222"/>
<path transform="translate(454.0,792.0) scale(0.900,0.950)" d="M1,3 L19,3 M10,0 L10,6 M3,6 L3,20 M3,6 L17,6 L17,20 L14,19 M7,8 L8,10 M13,8 L12,10 M5,11 L15,11 M5,15 L15,15 M10,11 L10,20" fill="none" stroke="#000" stroke-width="1.222"/>
<path transform="translate(473.0,792.0) scale(0.900,0.950)" d="M10,0 L10,2 M0,4 L20,4 M5,7 L15,7 L15,12 L5,12 Z M10,12 L10,19 L8,18 M6,14 L2,18 M14,14 L18,18" fill="none" stroke="#000" stroke-width="1.222"/>
<path transform="translate(492.0,792.0) scale(0.900,0.950)" d="M0,7 L20,7 M10,0 L10,8 Q8,16 0,20 M10,9 L20,20" fill="none" stroke="#000" stroke-width="1.222"/>
<path transform="translate(512.0,792.0) scale(0.900,0.950)" d="M5,0 L6.5,3 M10,0 L10,3 M15,0 L13.5,3 M2,6 L2,4 L18,4 L18,6 M5,7 L14,7 L10,10 M0,12 L20,12 M10,10 L10,19 L7,18" fill="none" stroke="#000" stroke-width="1.222"/>
<path transform="translate(546.0,792.0) scale(0.825,0.950)" d="M1,3 L19,3 M10,0 L10,6 M3,6 L3,20 M3,6 L17,6 L17,20 L14,19 M7,8 L8,10 M13,8 L12,10 M5,11 L15,11 M5,15 L15,15 M10,11 L10,20" fill="none" stroke="#000" stroke-width="1.333"/>
<path transform="translate(565.5,792.0) scale(0.825,0.950)" d="M10,0 L10,2 M0,4 L20,4 M5,7 L15,7 L15,12 L5,12 Z M10,12 L10,19 L8,18 M6,14 L2,18 M14,14 L18,18" fill="none" stroke="#000" stroke-width="1.333"/>
<path transform="translate(585.5,792.0) scale(0.825,0.950)" d="M7,0 L0,8 M7,0 L13,8 M3,9 L10,9 L10,13 L3,13 M3,9 L3,18 L12,18 M14.5,3 L14.5,14 M19,0 L19,19 L16,18" fill="none" stroke="#000" stroke-width="1.333"/>
<path transform="translate(605.5,792.0) scale(0.825,0.950)" d="M0,3 L20,3 M6,0 L6,5 M14,0 L14,5 M4,6 L4,12 M7.5,6 L7.5,12 M11,6 L10,10 M11,8 L18,8 M13,9 L14,11 M3,14 L17,14 L17,19 L3,19 Z M7.5,14 L7.5,19 M12.5,14 L12.5,19 M0,20 L20,20" fill="none" stroke="#000" stroke-width="1.333"/>
<path transform="translate(625.5,792.0) scale(0.825,0.950)" d="M7,0 L1,2 M0,6 L9,6 M4.5,2 L4.5,20 M4.5,7 L0,14 M4.5,8 L9,11 M12,3 L14,5 M12,7.5 L14,9.5 M10,14 L20,12 M16,0 L16,20" fill="none" stroke="#000" stroke-width="1.333"/>
<path transform="translate(645.5,792.0) scale(0.825,0.950)" d="M0,6 L7,6 M3.5,0 L3.5,19 L1,18 M0,13 L7,10 M9,5 L20,5 M14.5,0 L14.5,8 M10,9 L18,9 Q15,16 9,20 M11,12 L20,20" fill="none" stroke="#000" stroke-width="1.333"/>
<path transform="translate(665.5,792.0) scale(0.825,0.950)" d="M0,5 L20,5 M10,0 L3,14 M6,9 L6,20 M6,9 L16,9 L16,20 L13,19 M6,13 L16,13 M6,16.5 L16,16.5" fill="none" stroke="#000" stroke-width="1.333"/>
<path transform="translate(685.5,792.0) scale(0.825,0.950)" d="M2,0 L2,20 M2,0 L6,0 L4,5 L7,9 L5,12 L2,12 M9,1 L17,1 L17,9 L9,9 M9,5 L17,5 M9,1 L9,19 L13,16 M12,9 L20,19 M19,10 L15,13" fill="none" stroke="#000" stroke-width="1.333"/>
<path transform="translate(705.5,792.0) scale(0.825,0.950)" d="M7,1 L0,10 M12,1 L20,10 M9,8 L2,19 L16,17 M13,13 L18,19" fill="none" stroke="#000" stroke-width="1.333"/>
<path transform="translate(725.5,792.0) scale(0.825,0.950)" d="M1,1 L18,1 L18,19 L15,18 M4,5 L14,5 M4,9 L12,9 L12,15 L4,15 Z" fill="none" stroke="#000" stroke-width="1.333"/>
<text x="436" y="810" font-size="22" fill="#000">:</text>
<line x1="535" y1="788" x2="535" y2="817.5" stroke="#000" stroke-width="1.3"/>
<rect x="956.5" y="275.40" width="40" height="50.15" fill="#7e0023" stroke="#000" stroke-width="1.3"/>
<rect x="956.5" y="325.52" width="40" height="50.15" fill="#d0006f" stroke="#000" stroke-width="1.3"/>
<rect x="956.5" y="375.64" width="40" height="50.15" fill="#ff0000" stroke="#000" stroke-width="1.3"/>
<rect x="956.5" y="425.76" width="40" height="50.15" fill="#ff7e00" stroke="#000" stroke-width="1.3"/>
<rect x="956.5" y="475.88" width="40" height="50.15" fill="#ffff00" stroke="#000" stroke-width="1.3"/>
<rect x="956.5" y="526.00" width="40" height="50.15" fill="#00e400" stroke="#000" stroke-width="1.3"/>
<text x="1002.5" y="333.5" font-size="23" fill="#000" stroke="#fff" stroke-width="0.25" textLength="40" lengthAdjust="spacing">300</text>
<text x="1002.5" y="383.5" font-size="23" fill="#000" stroke="#fff" stroke-width="0.25" textLength="40" lengthAdjust="spacing">200</text>
<text x="1002.5" y="433.5" font-size="23" fill="#000" stroke="#fff" stroke-width="0.25" textLength="40" lengthAdjust="spacing">150</text>
<text x="1002.5" y="483.5" font-size="23" fill="#000" stroke="#fff" stroke-width="0.25" textLength="40" lengthAdjust="spacing">100</text>
<text x="1002.5" y="533.5" font-size="23" fill="#000" stroke="#fff" stroke-width="0.25" textLength="25" lengthAdjust="spacing">50</text>
<text x="941" y="108.5" font-size="24" fill="#000" stroke="#fff" stroke-width="0.25" textLength="91" lengthAdjust="spacing">(ug/m3)</text>
<line x1="954" y1="750.5" x2="1005" y2="750.5" stroke="#000" stroke-width="1.2"/>
<polyline points="992,743 1005,750.5 992,758" fill="none" stroke="#000" stroke-width="1.2"/>
<text x="943" y="778" font-size="22" fill="#000" stroke="#fff" stroke-width="0.25" textLength="81" lengthAdjust="spacing">10 m/s</text>
</svg></body></html>
